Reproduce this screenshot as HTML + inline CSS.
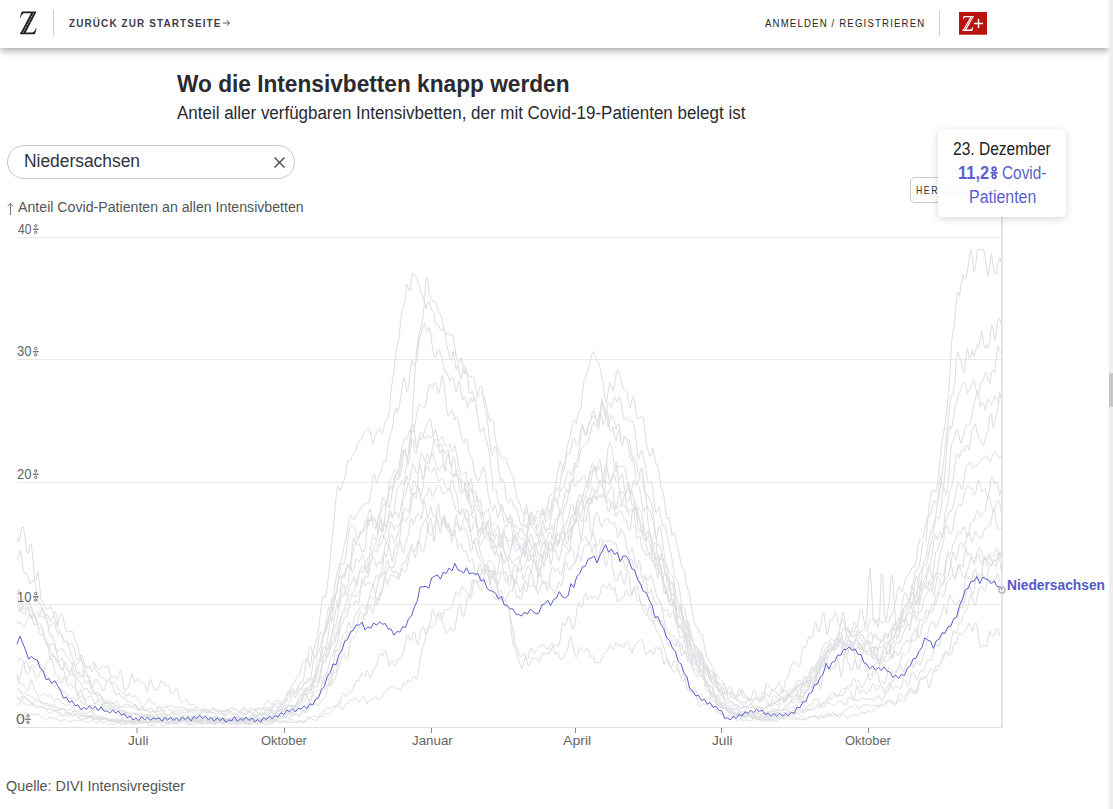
<!DOCTYPE html>
<html><head><meta charset="utf-8">
<style>
html,body{margin:0;padding:0;background:#fff;}
body{width:1113px;height:809px;position:relative;overflow:hidden;font-family:"Liberation Sans",sans-serif;color:#252525;}
.abs{position:absolute;}
.tx{position:absolute;white-space:nowrap;transform-origin:0 0;}
#hdr{position:absolute;left:0;top:0;width:1109px;height:48px;background:#fff;box-shadow:0 3px 7px rgba(0,0,0,0.33);z-index:5;}
#sb{position:absolute;left:1109px;top:0;width:4px;height:809px;background:#efefef;z-index:6;}
#sbt{position:absolute;left:1109px;top:373px;width:4px;height:34px;background:#c8c8c8;z-index:7;}
svg.full{position:absolute;left:0;top:0;}
</style></head>
<body>
<div id="hdr"></div>
<svg class="full" width="1113" height="60" style="z-index:6">
  <!-- Z logo -->
  <g fill="#1e1e1e" stroke="none">
    <path d="M21.8,11.6H36.2L35.6,13.2H23.6Q21.6,14.6 20.4,17.8L19.9,17.6Q20.8,14.2 21.8,11.6Z"/>
    <path d="M31.3,12.4H36.1L25.2,33.6H20.3Z"/>
    <path d="M20.2,32.6H32.6Q35,31.2 36,28L36.5,28.2Q35.7,31.8 34.8,34.2H20.2Z"/>
  </g>
  <path d="M33.7,12.8L22.7,33.2" stroke="#fff" stroke-width="0.7" stroke-dasharray="1.2,0.6"/>
  <line x1="53.5" y1="10" x2="53.5" y2="36" stroke="#d0d0d0" stroke-width="1"/>
  <path d="M223,23H229.6M226.8,20.2L229.6,23L226.8,25.8" stroke="#555" stroke-width="1" fill="none"/>
  <line x1="939.5" y1="10" x2="939.5" y2="36" stroke="#d0d0d0" stroke-width="1"/>
  <rect x="959" y="12" width="28" height="22.7" fill="#b9130f"/>
  <g fill="#fff">
    <path d="M963.6,16H973.8L973.4,17.2H965Q963.9,18 963.3,19.6L962.9,19.5Q963.2,17.6 963.6,16Z"/>
    <path d="M970.6,16.4H973.8L965.9,30.4H962.6Z"/>
    <path d="M962.6,29.6H970.6Q972.2,28.8 972.9,26.8L973.3,27Q972.9,29.4 972.3,30.9H962.6Z"/>
  </g>
  <path d="M972.3,16.8L964.2,30" stroke="#b9130f" stroke-width="0.5"/>
  <path d="M974,23.4H983M978.5,18.8V28" stroke="#fff" stroke-width="1.5"/>
</svg>
<div id="sb"></div><div id="sbt"></div>

<div class="abs" style="left:7px;top:145px;width:286px;height:32px;border:1px solid #c8c8c8;border-radius:17px;"></div>
<svg class="full" width="1113" height="809" style="z-index:1">
  <g stroke="#eaeaee" stroke-width="1">
    <line x1="17" y1="237.5" x2="1002" y2="237.5"/>
    <line x1="17" y1="359.5" x2="1002" y2="359.5"/>
    <line x1="17" y1="482.5" x2="1002" y2="482.5"/>
    <line x1="17" y1="604.5" x2="1002" y2="604.5"/>
  </g>
  <path d="M274.5,157.5L284.5,167.5M284.5,157.5L274.5,167.5" stroke="#444" stroke-width="1.4" fill="none"/>
  <g fill="none" stroke="#dddee1" stroke-width="1" stroke-linejoin="round">
<path d="M17.0,688.8L18.6,688.9L20.2,691.8L21.8,694.0L23.4,692.7L25.0,693.3L26.6,695.2L28.2,695.2L29.8,695.5L31.4,696.8L33.0,697.6L34.6,698.8L36.2,700.6L37.8,701.6L39.4,701.6L41.0,701.5L42.6,702.4L44.2,704.1L45.8,705.2L47.4,705.3L49.0,705.4L50.5,705.3L52.1,704.5L53.7,706.5L55.3,710.5L56.9,711.1L58.5,709.5L60.1,709.0L61.7,709.0L63.3,708.2L64.9,708.4L66.5,710.5L68.1,710.6L69.7,709.2L71.3,709.8L72.9,711.3L74.5,713.2L76.1,714.3L77.7,713.6L79.3,713.9L80.9,715.2L82.5,715.4L84.1,715.4L85.7,715.9L87.3,715.8L88.9,715.7L90.5,716.2L92.1,716.6L93.7,716.1L95.3,716.0L96.9,717.1L98.5,717.9L100.1,717.9L101.7,718.0L103.3,718.4L104.9,718.9L106.5,718.7L108.1,719.4L109.7,720.5L111.3,720.4L112.9,719.8L114.4,720.2L116.0,721.3L117.6,721.5L119.2,720.9L120.8,720.8L122.4,720.4L124.0,720.7L125.6,721.7L127.2,720.8L128.8,720.0L130.4,720.9L132.0,721.3L133.6,720.5L135.2,720.1L136.8,720.2L138.4,721.4L140.0,722.2L141.6,721.7L143.2,720.9L144.8,720.4L146.4,721.0L148.0,722.5L149.6,722.0L151.2,720.4L152.8,720.2L154.4,721.0L156.0,720.9L157.6,720.3L159.2,719.9L160.8,719.8L162.4,720.3L164.0,720.8L165.6,720.6L167.2,720.9L168.8,722.1L170.4,721.7L172.0,721.3L173.6,721.6L175.2,721.2L176.8,720.7L178.3,720.3L179.9,720.1L181.5,719.6L183.1,719.2L184.7,720.1L186.3,721.6L187.9,721.3L189.5,719.7L191.1,720.1L192.7,720.9L194.3,720.6L195.9,720.1L197.5,719.7L199.1,719.9L200.7,720.5L202.3,720.6L203.9,720.5L205.5,720.5L207.1,719.4L208.7,719.2L210.3,721.5L211.9,722.2L213.5,719.4L215.1,718.0L216.7,720.1L218.3,720.9L219.9,720.1L221.5,720.3L223.1,720.4L224.7,719.8L226.3,719.4L227.9,719.4L229.5,719.4L231.1,719.7L232.7,720.1L234.3,720.1L235.9,720.0L237.5,719.8L239.1,720.3L240.7,719.6L242.2,718.1L243.8,718.2L245.4,718.5L247.0,718.4L248.6,718.7L250.2,718.6L251.8,718.0L253.4,718.3L255.0,718.6L256.6,718.1L258.2,718.5L259.8,719.3L261.4,719.1L263.0,717.7L264.6,716.9L266.2,717.7L267.8,718.5L269.4,718.9L271.0,717.5L272.6,715.6L274.2,715.1L275.8,713.9L277.4,711.1L279.0,707.9L280.6,704.4L282.2,701.0L283.8,700.0L285.4,699.4L287.0,696.6L288.6,692.7L290.2,688.8L291.8,685.1L293.4,683.8L295.0,682.3L296.6,677.5L298.2,676.1L299.8,674.7L301.4,667.3L303.0,661.6L304.6,660.7L306.1,661.4L307.7,656.6L309.3,647.3L310.9,647.4L312.5,652.1L314.1,648.8L315.7,643.2L317.3,637.0L318.9,626.3L320.5,613.4L322.1,600.0L323.7,596.1L325.3,597.2L326.9,589.1L328.5,576.4L330.1,560.6L331.7,544.5L333.3,527.4L334.9,510.2L336.5,492.1L338.1,485.7L339.7,491.1L341.3,488.1L342.9,482.2L344.5,479.2L346.1,470.9L347.7,460.7L349.3,461.5L350.9,460.1L352.5,454.4L354.1,453.9L355.7,450.7L357.3,444.3L358.9,440.6L360.5,440.5L362.1,437.2L363.7,433.0L365.3,431.0L366.9,429.6L368.5,427.8L370.0,430.1L371.6,438.2L373.2,443.6L374.8,438.3L376.4,432.5L378.0,430.5L379.6,428.2L381.2,432.6L382.8,432.9L384.4,425.6L386.0,419.4L387.6,419.1L389.2,413.1L390.8,393.7L392.4,380.4L394.0,371.4L395.6,354.4L397.2,346.1L398.8,339.5L400.4,323.8L402.0,310.7L403.6,306.9L405.2,299.3L406.8,284.5L408.4,287.8L410.0,291.0L411.6,278.6L413.2,273.2L414.8,274.3L416.4,278.1L418.0,281.7L419.6,287.2L421.2,293.4L422.8,295.3L424.4,302.8L426.0,308.3L427.6,303.2L429.2,301.0L430.8,308.0L432.4,310.9L433.9,312.7L435.5,323.5L437.1,325.7L438.7,324.3L440.3,329.9L441.9,330.4L443.5,328.0L445.1,332.6L446.7,345.3L448.3,351.3L449.9,358.5L451.5,360.4L453.1,350.5L454.7,360.6L456.3,370.1L457.9,364.6L459.5,372.0L461.1,379.2L462.7,369.7L464.3,365.6L465.9,373.2L467.5,374.6L469.1,374.5L470.7,377.7L472.3,375.6L473.9,377.2L475.5,387.8L477.1,394.4L478.7,395.3L480.3,394.4L481.9,392.4L483.5,395.0L485.1,400.5L486.7,406.6L488.3,415.5L489.9,422.0L491.5,418.8L493.1,419.5L494.7,433.7L496.3,444.3L497.8,447.9L499.4,453.3L501.0,457.2L502.6,458.5L504.2,458.1L505.8,458.0L507.4,464.0L509.0,468.3L510.6,471.4L512.2,475.7L513.8,479.4L515.4,489.8L517.0,498.6L518.6,500.3L520.2,505.0L521.8,510.8L523.4,514.5L525.0,514.7L526.6,510.5L528.2,514.2L529.8,523.4L531.4,527.2L533.0,527.7L534.6,529.9L536.2,535.0L537.8,536.5L539.4,535.3L541.0,533.2L542.6,527.9L544.2,526.5L545.8,528.7L547.4,530.2L549.0,528.6L550.6,520.2L552.2,511.8L553.8,502.3L555.4,498.8L557.0,502.8L558.6,498.4L560.2,491.1L561.7,487.8L563.3,488.2L564.9,484.5L566.5,475.6L568.1,470.8L569.7,472.4L571.3,475.3L572.9,470.5L574.5,462.7L576.1,465.6L577.7,467.6L579.3,457.5L580.9,449.2L582.5,447.9L584.1,446.4L585.7,444.7L587.3,443.4L588.9,438.7L590.5,433.1L592.1,425.1L593.7,421.7L595.3,425.9L596.9,424.7L598.5,417.7L600.1,411.9L601.7,417.0L603.3,425.0L604.9,420.9L606.5,411.8L608.1,415.1L609.7,430.6L611.3,431.1L612.9,426.6L614.5,437.5L616.1,440.9L617.7,431.4L619.3,430.4L620.9,437.1L622.5,438.6L624.1,436.4L625.6,436.8L627.2,441.5L628.8,448.5L630.4,457.2L632.0,461.5L633.6,459.6L635.2,458.2L636.8,465.1L638.4,473.6L640.0,473.5L641.6,475.8L643.2,484.6L644.8,492.1L646.4,501.0L648.0,509.1L649.6,509.6L651.2,513.8L652.8,521.4L654.4,527.9L656.0,538.2L657.6,545.3L659.2,544.2L660.8,547.3L662.4,558.2L664.0,561.6L665.6,562.7L667.2,568.5L668.8,576.6L670.4,591.3L672.0,600.0L673.6,600.6L675.2,606.3L676.8,613.7L678.4,616.8L680.0,616.6L681.6,621.5L683.2,629.3L684.8,632.8L686.4,637.8L688.0,643.9L689.5,648.1L691.1,651.2L692.7,653.2L694.3,657.3L695.9,661.2L697.5,664.0L699.1,668.7L700.7,671.7L702.3,672.1L703.9,675.1L705.5,679.2L707.1,681.4L708.7,685.9L710.3,691.6L711.9,694.3L713.5,695.6L715.1,698.8L716.7,703.1L718.3,705.4L719.9,706.6L721.5,707.2L723.1,706.9L724.7,707.6L726.3,709.3L727.9,711.3L729.5,712.7L731.1,712.9L732.7,712.1L734.3,711.8L735.9,713.4L737.5,715.3L739.1,716.3L740.7,717.2L742.3,717.8L743.9,717.8L745.5,717.0L747.1,716.6L748.7,717.2L750.3,717.0L751.9,717.1L753.4,717.9L755.0,717.9L756.6,718.5L758.2,719.6L759.8,719.6L761.4,719.6L763.0,719.8L764.6,719.7L766.2,719.2L767.8,719.2L769.4,719.6L771.0,719.8L772.6,719.7L774.2,718.5L775.8,717.5L777.4,717.3L779.0,717.0L780.6,716.9L782.2,717.2L783.8,716.7L785.4,715.4L787.0,714.5L788.6,713.5L790.2,712.7L791.8,713.1L793.4,712.7L795.0,712.2L796.6,713.1L798.2,714.1L799.8,713.7L801.4,711.8L803.0,710.3L804.6,710.1L806.2,710.2L807.8,709.7L809.4,709.7L811.0,710.0L812.6,708.4L814.2,707.4L815.8,706.3L817.3,704.3L818.9,705.3L820.5,706.4L822.1,704.1L823.7,701.6L825.3,700.8L826.9,699.1L828.5,697.3L830.1,698.1L831.7,699.3L833.3,696.7L834.9,693.9L836.5,695.6L838.1,695.9L839.7,692.5L841.3,689.6L842.9,688.3L844.5,688.7L846.1,689.0L847.7,686.2L849.3,686.3L850.9,687.1L852.5,681.0L854.1,678.3L855.7,682.5L857.3,681.7L858.9,680.0L860.5,685.0L862.1,688.1L863.7,685.3L865.3,681.7L866.9,678.2L868.5,674.5L870.1,674.7L871.7,675.5L873.3,669.7L874.9,663.4L876.5,662.3L878.1,663.4L879.7,663.4L881.2,663.0L882.8,662.6L884.4,659.5L886.0,655.3L887.6,651.2L889.2,650.6L890.8,651.1L892.4,644.9L894.0,639.8L895.6,640.6L897.2,638.8L898.8,635.7L900.4,630.2L902.0,618.5L903.6,609.4L905.2,606.6L906.8,604.8L908.4,601.2L910.0,597.2L911.6,591.9L913.2,582.1L914.8,573.1L916.4,570.2L918.0,569.1L919.6,564.2L921.2,553.9L922.8,542.6L924.4,541.6L926.0,540.5L927.6,523.0L929.2,504.5L930.8,496.4L932.4,490.6L934.0,489.4L935.6,491.9L937.2,486.2L938.8,472.2L940.4,456.3L942.0,442.2L943.6,433.1L945.1,424.2L946.7,410.5L948.3,395.5L949.9,372.6L951.5,343.3L953.1,330.9L954.7,323.4L956.3,300.2L957.9,291.6L959.5,296.5L961.1,284.1L962.7,274.5L964.3,280.1L965.9,278.6L967.5,270.0L969.1,259.1L970.7,249.2L972.3,256.4L973.9,272.1L975.5,268.5L977.1,249.9L978.7,249.2L980.3,249.2L981.9,249.9L983.5,249.2L985.1,255.8L986.7,269.6L988.3,275.9L989.9,263.4L991.5,253.6L993.1,265.4L994.7,273.8L996.3,273.5L997.9,264.7L999.5,257.6L1001.1,262.6"/>
<path d="M17.0,696.5L18.6,698.2L20.2,701.1L21.8,701.5L23.4,697.4L25.0,696.9L26.6,699.7L28.2,700.2L29.8,701.5L31.4,702.7L33.0,702.7L34.6,704.1L36.2,705.9L37.8,706.3L39.4,706.0L41.0,706.1L42.6,707.0L44.2,708.1L45.8,709.0L47.4,709.3L49.0,708.8L50.5,709.1L52.1,709.7L53.7,710.7L55.3,711.6L56.9,710.3L58.5,710.3L60.1,713.8L61.7,715.9L63.3,714.9L64.9,713.2L66.5,712.6L68.1,712.5L69.7,713.0L71.3,714.0L72.9,714.7L74.5,714.9L76.1,715.4L77.7,716.8L79.3,717.1L80.9,715.7L82.5,715.4L84.1,717.5L85.7,719.1L87.3,718.3L88.9,717.5L90.5,717.5L92.1,718.3L93.7,719.4L95.3,718.4L96.9,718.5L98.5,720.3L100.1,719.8L101.7,718.8L103.3,719.2L104.9,718.4L106.5,717.9L108.1,719.6L109.7,721.5L111.3,721.7L112.9,721.1L114.4,721.4L116.0,721.8L117.6,721.6L119.2,721.7L120.8,723.2L122.4,724.8L124.0,724.3L125.6,722.0L127.2,720.8L128.8,720.7L130.4,721.8L132.0,722.5L133.6,722.0L135.2,722.5L136.8,723.6L138.4,722.6L140.0,720.8L141.6,720.8L143.2,721.7L144.8,722.4L146.4,722.4L148.0,721.6L149.6,722.1L151.2,722.8L152.8,722.9L154.4,722.8L156.0,721.8L157.6,721.3L159.2,721.6L160.8,721.4L162.4,721.9L164.0,722.5L165.6,722.7L167.2,722.5L168.8,722.2L170.4,722.6L172.0,723.0L173.6,723.2L175.2,723.6L176.8,723.7L178.3,722.6L179.9,721.2L181.5,720.5L183.1,719.7L184.7,719.2L186.3,720.6L187.9,721.2L189.5,720.7L191.1,721.4L192.7,721.7L194.3,721.9L195.9,722.6L197.5,722.8L199.1,721.7L200.7,721.7L202.3,721.7L203.9,720.1L205.5,720.0L207.1,721.4L208.7,722.1L210.3,721.8L211.9,721.2L213.5,720.4L215.1,720.5L216.7,721.7L218.3,722.2L219.9,722.5L221.5,722.8L223.1,722.3L224.7,721.1L226.3,719.9L227.9,719.9L229.5,720.8L231.1,721.0L232.7,720.1L234.3,719.2L235.9,719.7L237.5,720.7L239.1,721.7L240.7,721.7L242.2,720.9L243.8,720.6L245.4,721.1L247.0,721.4L248.6,720.9L250.2,720.1L251.8,719.3L253.4,719.2L255.0,720.0L256.6,720.7L258.2,720.7L259.8,720.9L261.4,720.8L263.0,720.3L264.6,720.0L266.2,719.4L267.8,718.6L269.4,718.8L271.0,720.0L272.6,721.2L274.2,720.8L275.8,720.7L277.4,720.7L279.0,719.2L280.6,718.5L282.2,718.1L283.8,716.8L285.4,716.4L287.0,717.1L288.6,717.5L290.2,716.3L291.8,715.8L293.4,715.5L295.0,714.0L296.6,714.2L298.2,715.3L299.8,714.5L301.4,713.0L303.0,710.7L304.6,710.1L306.1,711.4L307.7,710.9L309.3,709.1L310.9,707.1L312.5,704.8L314.1,704.3L315.7,704.6L317.3,704.9L318.9,705.4L320.5,702.5L322.1,699.2L323.7,698.9L325.3,697.3L326.9,691.2L328.5,685.4L330.1,685.7L331.7,684.4L333.3,680.1L334.9,678.8L336.5,674.5L338.1,668.1L339.7,664.1L341.3,660.2L342.9,654.3L344.5,654.1L346.1,659.9L347.7,658.5L349.3,648.0L350.9,639.0L352.5,637.6L354.1,637.6L355.7,634.5L357.3,629.6L358.9,626.7L360.5,627.3L362.1,625.5L363.7,617.0L365.3,614.6L366.9,614.7L368.5,606.5L370.0,605.1L371.6,612.4L373.2,612.4L374.8,602.5L376.4,597.1L378.0,601.0L379.6,599.1L381.2,590.0L382.8,587.6L384.4,580.7L386.0,565.1L387.6,560.0L389.2,565.5L390.8,567.5L392.4,567.4L394.0,567.4L395.6,559.3L397.2,551.0L398.8,546.2L400.4,532.2L402.0,510.5L403.6,492.7L405.2,476.4L406.8,461.4L408.4,454.5L410.0,448.1L411.6,431.8L413.2,402.1L414.8,373.0L416.4,353.0L418.0,339.4L419.6,333.4L421.2,326.1L422.8,318.1L424.4,303.1L426.0,279.1L427.6,277.9L429.2,294.1L430.8,298.4L432.4,299.7L433.9,302.3L435.5,302.2L437.1,307.2L438.7,311.9L440.3,314.0L441.9,318.4L443.5,327.0L445.1,333.8L446.7,333.8L448.3,333.3L449.9,335.4L451.5,335.0L453.1,334.9L454.7,345.9L456.3,356.6L457.9,361.0L459.5,362.2L461.1,357.4L462.7,364.2L464.3,374.4L465.9,368.4L467.5,374.6L469.1,392.9L470.7,392.7L472.3,391.4L473.9,399.6L475.5,401.1L477.1,396.4L478.7,391.6L480.3,385.9L481.9,386.9L483.5,399.4L485.1,408.5L486.7,415.8L488.3,428.2L489.9,444.1L491.5,455.4L493.1,453.4L494.7,446.6L496.3,448.3L497.8,459.6L499.4,473.8L501.0,481.5L502.6,478.8L504.2,483.1L505.8,495.2L507.4,502.9L509.0,503.0L510.6,498.3L512.2,501.1L513.8,507.1L515.4,507.5L517.0,509.5L518.6,516.4L520.2,522.9L521.8,526.3L523.4,523.2L525.0,509.2L526.6,504.7L528.2,515.2L529.8,515.1L531.4,512.7L533.0,516.0L534.6,516.7L536.2,514.6L537.8,510.9L539.4,512.3L541.0,511.4L542.6,508.3L544.2,514.0L545.8,518.1L547.4,509.1L549.0,498.3L550.6,494.9L552.2,494.9L553.8,493.5L555.4,484.7L557.0,475.6L558.6,468.1L560.2,460.9L561.7,465.1L563.3,472.7L564.9,466.4L566.5,451.7L568.1,443.4L569.7,437.8L571.3,429.9L572.9,420.9L574.5,419.4L576.1,423.1L577.7,416.3L579.3,410.7L580.9,408.3L582.5,393.3L584.1,380.4L585.7,377.4L587.3,372.8L588.9,366.6L590.5,360.8L592.1,353.8L593.7,351.4L595.3,355.5L596.9,361.7L598.5,362.8L600.1,367.5L601.7,376.8L603.3,382.8L604.9,397.7L606.5,403.5L608.1,391.6L609.7,382.8L611.3,385.6L612.9,391.3L614.5,385.7L616.1,374.2L617.7,369.8L619.3,372.8L620.9,379.1L622.5,386.5L624.1,390.1L625.6,389.3L627.2,392.4L628.8,403.6L630.4,408.1L632.0,399.7L633.6,396.6L635.2,405.7L636.8,415.9L638.4,419.1L640.0,417.3L641.6,416.0L643.2,418.0L644.8,429.9L646.4,443.8L648.0,450.1L649.6,455.9L651.2,455.5L652.8,447.9L654.4,454.4L656.0,464.5L657.6,464.0L659.2,473.8L660.8,486.9L662.4,490.2L664.0,496.8L665.6,510.4L667.2,518.9L668.8,517.2L670.4,524.0L672.0,535.5L673.6,533.2L675.2,534.1L676.8,543.7L678.4,550.5L680.0,558.2L681.6,566.6L683.2,568.4L684.8,572.7L686.4,584.0L688.0,589.7L689.5,595.0L691.1,604.7L692.7,613.7L694.3,622.1L695.9,626.3L697.5,627.5L699.1,632.6L700.7,634.7L702.3,634.4L703.9,643.5L705.5,652.4L707.1,657.3L708.7,660.3L710.3,662.5L711.9,667.1L713.5,668.9L715.1,674.2L716.7,681.8L718.3,685.1L719.9,686.2L721.5,687.5L723.1,694.1L724.7,701.3L726.3,704.7L727.9,705.4L729.5,705.4L731.1,706.7L732.7,708.0L734.3,708.3L735.9,707.5L737.5,708.2L739.1,711.1L740.7,712.7L742.3,713.7L743.9,715.2L745.5,715.9L747.1,715.3L748.7,714.7L750.3,715.5L751.9,716.3L753.4,715.9L755.0,716.3L756.6,716.9L758.2,717.3L759.8,717.5L761.4,716.7L763.0,716.5L764.6,717.5L766.2,717.1L767.8,715.1L769.4,713.3L771.0,712.3L772.6,713.1L774.2,713.4L775.8,712.8L777.4,711.6L779.0,710.6L780.6,710.7L782.2,709.7L783.8,708.0L785.4,706.6L787.0,704.6L788.6,702.6L790.2,701.7L791.8,701.9L793.4,702.6L795.0,702.9L796.6,701.6L798.2,698.7L799.8,696.1L801.4,696.5L803.0,695.9L804.6,692.7L806.2,691.8L807.8,690.6L809.4,686.1L811.0,684.9L812.6,687.7L814.2,683.8L815.8,676.0L817.3,673.5L818.9,672.5L820.5,666.3L822.1,659.7L823.7,657.6L825.3,653.8L826.9,650.8L828.5,650.5L830.1,648.4L831.7,647.6L833.3,648.2L834.9,644.7L836.5,639.0L838.1,638.4L839.7,640.7L841.3,636.6L842.9,628.3L844.5,627.7L846.1,632.9L847.7,637.3L849.3,637.5L850.9,632.1L852.5,631.4L854.1,632.5L855.7,626.7L857.3,626.3L858.9,632.0L860.5,633.1L862.1,630.6L863.7,628.5L865.3,630.9L866.9,630.9L868.5,624.1L870.1,620.6L871.7,618.9L873.3,619.3L874.9,623.0L876.5,622.3L878.1,619.2L879.7,619.3L881.2,622.4L882.8,623.4L884.4,621.8L886.0,621.4L887.6,622.6L889.2,621.4L890.8,615.8L892.4,612.3L894.0,608.6L895.6,601.9L897.2,593.1L898.8,585.9L900.4,588.9L902.0,592.0L903.6,586.7L905.2,580.6L906.8,576.3L908.4,574.8L910.0,572.9L911.6,568.4L913.2,567.2L914.8,566.3L916.4,558.7L918.0,546.7L919.6,539.4L921.2,540.1L922.8,538.3L924.4,530.7L926.0,522.7L927.6,516.5L929.2,516.4L930.8,514.4L932.4,504.4L934.0,500.1L935.6,502.6L937.2,502.2L938.8,498.3L940.4,487.8L942.0,474.5L943.6,461.4L945.1,448.0L946.7,434.5L948.3,419.1L949.9,404.1L951.5,395.0L953.1,393.0L954.7,383.2L956.3,360.8L957.9,351.6L959.5,356.5L961.1,361.3L962.7,370.7L964.3,372.6L965.9,357.0L967.5,348.4L969.1,358.2L970.7,356.4L972.3,350.2L973.9,356.4L975.5,350.7L977.1,344.5L978.7,347.4L980.3,337.3L981.9,330.5L983.5,343.5L985.1,348.7L986.7,344.8L988.3,347.8L989.9,341.2L991.5,325.0L993.1,328.6L994.7,341.1L996.3,333.8L997.9,319.0L999.5,318.5L1001.1,323.5"/>
<path d="M17.0,675.5L18.6,683.4L20.2,683.8L21.8,683.1L23.4,684.9L25.0,687.7L26.6,691.0L28.2,690.2L29.8,684.7L31.4,679.5L33.0,684.1L34.6,690.5L36.2,692.5L37.8,694.7L39.4,696.2L41.0,694.9L42.6,693.9L44.2,694.1L45.8,694.5L47.4,696.3L49.0,696.3L50.5,694.9L52.1,697.2L53.7,700.5L55.3,700.9L56.9,698.8L58.5,698.4L60.1,701.6L61.7,702.9L63.3,703.0L64.9,705.2L66.5,705.4L68.1,704.0L69.7,704.6L71.3,705.7L72.9,708.3L74.5,710.5L76.1,709.6L77.7,710.7L79.3,712.0L80.9,710.5L82.5,710.1L84.1,712.1L85.7,713.4L87.3,713.1L88.9,712.2L90.5,711.5L92.1,712.3L93.7,713.3L95.3,713.8L96.9,715.6L98.5,716.7L100.1,715.9L101.7,716.0L103.3,717.6L104.9,718.4L106.5,719.5L108.1,720.5L109.7,719.0L111.3,719.0L112.9,720.7L114.4,720.9L116.0,720.4L117.6,720.8L119.2,722.4L120.8,722.0L122.4,719.7L124.0,720.2L125.6,722.7L127.2,722.3L128.8,721.1L130.4,720.5L132.0,720.2L133.6,721.1L135.2,721.7L136.8,721.0L138.4,720.0L140.0,720.4L141.6,722.2L143.2,722.0L144.8,719.6L146.4,718.8L148.0,719.1L149.6,719.1L151.2,720.2L152.8,721.8L154.4,722.4L156.0,721.4L157.6,720.6L159.2,722.0L160.8,722.4L162.4,721.4L164.0,720.5L165.6,720.8L167.2,722.7L168.8,723.3L170.4,721.1L172.0,719.2L173.6,719.3L175.2,720.3L176.8,720.8L178.3,720.8L179.9,720.4L181.5,720.5L183.1,721.1L184.7,721.1L186.3,720.5L187.9,720.1L189.5,718.9L191.1,717.2L192.7,717.0L194.3,719.4L195.9,722.2L197.5,722.4L199.1,721.2L200.7,721.6L202.3,722.1L203.9,720.0L205.5,719.6L207.1,721.9L208.7,722.7L210.3,721.9L211.9,720.6L213.5,718.8L215.1,718.2L216.7,719.2L218.3,719.7L219.9,719.0L221.5,718.1L223.1,718.0L224.7,719.2L226.3,720.9L227.9,721.5L229.5,720.5L231.1,718.8L232.7,719.0L234.3,720.5L235.9,720.6L237.5,720.3L239.1,721.2L240.7,721.3L242.2,718.9L243.8,717.4L245.4,719.4L247.0,721.4L248.6,722.3L250.2,721.8L251.8,719.7L253.4,718.8L255.0,719.3L256.6,719.5L258.2,719.5L259.8,720.5L261.4,721.6L263.0,721.0L264.6,720.3L266.2,720.7L267.8,721.0L269.4,720.9L271.0,719.9L272.6,718.9L274.2,719.2L275.8,718.7L277.4,717.1L279.0,715.5L280.6,715.8L282.2,716.9L283.8,715.6L285.4,714.1L287.0,712.7L288.6,710.3L290.2,708.4L291.8,707.6L293.4,706.4L295.0,704.8L296.6,704.9L298.2,704.0L299.8,702.0L301.4,699.6L303.0,694.9L304.6,691.0L306.1,689.3L307.7,690.6L309.3,690.7L310.9,686.0L312.5,682.2L314.1,680.4L315.7,676.4L317.3,669.4L318.9,664.2L320.5,661.9L322.1,657.4L323.7,654.5L325.3,651.0L326.9,643.6L328.5,633.9L330.1,619.0L331.7,605.3L333.3,597.1L334.9,586.1L336.5,574.7L338.1,569.0L339.7,563.8L341.3,559.9L342.9,553.2L344.5,543.7L346.1,538.6L347.7,529.4L349.3,519.5L350.9,515.1L352.5,517.7L354.1,519.5L355.7,515.6L357.3,514.4L358.9,512.2L360.5,508.0L362.1,505.6L363.7,504.8L365.3,503.1L366.9,503.0L368.5,503.0L370.0,497.1L371.6,488.0L373.2,474.9L374.8,474.2L376.4,483.8L378.0,479.0L379.6,474.0L381.2,471.4L382.8,462.6L384.4,461.8L386.0,461.9L387.6,449.9L389.2,437.4L390.8,433.6L392.4,429.3L394.0,414.9L395.6,408.0L397.2,412.4L398.8,408.2L400.4,399.9L402.0,389.6L403.6,377.4L405.2,381.2L406.8,391.4L408.4,389.0L410.0,372.4L411.6,359.4L413.2,364.3L414.8,366.1L416.4,360.3L418.0,349.9L419.6,337.2L421.2,333.5L422.8,327.4L424.4,322.6L426.0,329.2L427.6,332.3L429.2,327.3L430.8,333.7L432.4,347.0L433.9,356.5L435.5,357.7L437.1,350.8L438.7,349.0L440.3,352.8L441.9,357.0L443.5,365.6L445.1,372.5L446.7,372.8L448.3,376.5L449.9,381.5L451.5,378.3L453.1,377.2L454.7,386.2L456.3,391.8L457.9,384.2L459.5,381.3L461.1,392.6L462.7,400.3L464.3,396.8L465.9,399.2L467.5,408.7L469.1,402.6L470.7,397.7L472.3,402.0L473.9,398.3L475.5,402.6L477.1,413.5L478.7,422.0L480.3,432.8L481.9,430.5L483.5,427.6L485.1,435.6L486.7,440.4L488.3,447.8L489.9,457.1L491.5,472.9L493.1,490.0L494.7,490.1L496.3,489.5L497.8,500.3L499.4,505.3L501.0,504.2L502.6,512.8L504.2,523.1L505.8,520.8L507.4,517.6L509.0,520.6L510.6,518.4L512.2,518.1L513.8,529.0L515.4,540.2L517.0,541.5L518.6,533.8L520.2,528.2L521.8,528.9L523.4,532.1L525.0,535.0L526.6,536.2L528.2,538.2L529.8,542.2L531.4,547.7L533.0,549.1L534.6,546.0L536.2,546.2L537.8,543.0L539.4,536.4L541.0,528.4L542.6,519.6L544.2,525.1L545.8,533.2L547.4,529.7L549.0,529.3L550.6,529.3L552.2,525.6L553.8,534.4L555.4,538.8L557.0,525.9L558.6,515.1L560.2,510.6L561.7,515.0L563.3,513.4L564.9,504.3L566.5,504.2L568.1,496.4L569.7,484.0L571.3,482.2L572.9,479.8L574.5,470.1L576.1,462.8L577.7,459.1L579.3,448.8L580.9,432.9L582.5,424.7L584.1,432.8L585.7,435.9L587.3,427.5L588.9,424.0L590.5,420.6L592.1,413.2L593.7,410.2L595.3,414.4L596.9,422.7L598.5,429.8L600.1,417.6L601.7,402.3L603.3,407.8L604.9,415.9L606.5,412.5L608.1,402.9L609.7,403.5L611.3,407.5L612.9,401.1L614.5,396.5L616.1,400.2L617.7,401.4L619.3,396.6L620.9,401.4L622.5,413.1L624.1,419.4L625.6,418.4L627.2,417.4L628.8,420.4L630.4,420.8L632.0,421.2L633.6,423.6L635.2,431.4L636.8,448.2L638.4,459.5L640.0,454.2L641.6,450.5L643.2,455.7L644.8,462.7L646.4,472.2L648.0,481.4L649.6,483.1L651.2,480.8L652.8,488.7L654.4,503.9L656.0,512.9L657.6,510.4L659.2,507.4L660.8,517.4L662.4,526.5L664.0,524.9L665.6,527.2L667.2,536.5L668.8,544.3L670.4,551.2L672.0,559.4L673.6,569.9L675.2,577.7L676.8,580.1L678.4,582.9L680.0,592.7L681.6,605.9L683.2,607.6L684.8,609.0L686.4,617.8L688.0,622.2L689.5,625.3L691.1,633.1L692.7,642.4L694.3,646.1L695.9,645.8L697.5,650.1L699.1,658.8L700.7,665.4L702.3,668.0L703.9,672.6L705.5,682.4L707.1,687.5L708.7,688.2L710.3,691.4L711.9,692.9L713.5,692.1L715.1,694.2L716.7,697.1L718.3,699.4L719.9,702.1L721.5,703.8L723.1,706.8L724.7,707.9L726.3,707.2L727.9,709.1L729.5,711.3L731.1,711.8L732.7,712.0L734.3,713.1L735.9,713.6L737.5,714.1L739.1,715.9L740.7,717.0L742.3,716.1L743.9,714.4L745.5,713.5L747.1,714.0L748.7,715.4L750.3,715.7L751.9,715.3L753.4,715.5L755.0,714.9L756.6,715.1L758.2,716.4L759.8,716.5L761.4,715.2L763.0,712.6L764.6,712.0L766.2,714.2L767.8,716.6L769.4,717.4L771.0,715.7L772.6,714.8L774.2,714.6L775.8,714.0L777.4,714.3L779.0,713.4L780.6,712.4L782.2,712.0L783.8,709.6L785.4,708.8L787.0,711.0L788.6,710.6L790.2,707.7L791.8,707.2L793.4,707.9L795.0,706.6L796.6,704.8L798.2,703.1L799.8,701.0L801.4,698.7L803.0,695.5L804.6,693.6L806.2,692.7L807.8,689.8L809.4,686.7L811.0,687.4L812.6,687.7L814.2,682.7L815.8,676.3L817.3,671.6L818.9,670.2L820.5,668.4L822.1,662.7L823.7,657.8L825.3,658.3L826.9,658.6L828.5,655.8L830.1,653.7L831.7,650.7L833.3,647.5L834.9,641.7L836.5,637.6L838.1,641.0L839.7,643.1L841.3,640.9L842.9,641.3L844.5,645.7L846.1,646.2L847.7,641.7L849.3,639.4L850.9,641.3L852.5,644.9L854.1,644.5L855.7,638.2L857.3,634.2L858.9,637.0L860.5,639.1L862.1,641.0L863.7,644.6L865.3,644.7L866.9,642.3L868.5,640.7L870.1,643.1L871.7,643.8L873.3,636.1L874.9,633.2L876.5,638.3L878.1,639.7L879.7,638.0L881.2,640.5L882.8,641.8L884.4,637.6L886.0,635.3L887.6,633.6L889.2,634.2L890.8,636.0L892.4,631.9L894.0,628.5L895.6,629.9L897.2,629.0L898.8,628.1L900.4,624.3L902.0,612.8L903.6,607.5L905.2,605.5L906.8,602.7L908.4,603.6L910.0,596.8L911.6,584.9L913.2,587.3L914.8,601.7L916.4,604.9L918.0,588.6L919.6,573.5L921.2,571.0L922.8,566.8L924.4,560.6L926.0,557.5L927.6,548.4L929.2,537.3L930.8,531.0L932.4,528.1L934.0,523.8L935.6,516.4L937.2,506.3L938.8,487.5L940.4,475.6L942.0,485.1L943.6,488.2L945.1,470.2L946.7,448.3L948.3,431.8L949.9,426.0L951.5,429.0L953.1,420.6L954.7,408.0L956.3,403.7L957.9,397.0L959.5,392.1L961.1,388.4L962.7,383.8L964.3,382.2L965.9,386.7L967.5,393.6L969.1,391.2L970.7,387.1L972.3,382.2L973.9,379.2L975.5,387.0L977.1,394.3L978.7,393.5L980.3,385.8L981.9,381.1L983.5,379.9L985.1,373.0L986.7,372.2L988.3,380.8L989.9,382.9L991.5,372.2L993.1,370.0L994.7,373.2L996.3,357.0L997.9,345.6L999.5,350.3L1001.1,353.1"/>
<path d="M17.0,559.0L18.6,555.9L20.2,550.6L21.8,559.0L23.4,571.0L25.0,573.0L26.6,573.3L28.2,578.4L29.8,583.8L31.4,582.9L33.0,579.9L34.6,581.7L36.2,589.0L37.8,600.2L39.4,604.9L41.0,605.8L42.6,612.0L44.2,613.8L45.8,617.0L47.4,623.9L49.0,626.2L50.5,625.5L52.1,624.0L53.7,622.2L55.3,624.8L56.9,632.4L58.5,634.8L60.1,632.8L61.7,635.3L63.3,641.6L64.9,641.6L66.5,642.0L68.1,645.6L69.7,644.0L71.3,643.8L72.9,645.0L74.5,649.4L76.1,657.9L77.7,661.1L79.3,658.2L80.9,654.8L82.5,656.6L84.1,662.8L85.7,666.6L87.3,667.7L88.9,667.7L90.5,667.1L92.1,663.5L93.7,661.6L95.3,667.8L96.9,671.8L98.5,673.0L100.1,677.3L101.7,678.9L103.3,677.1L104.9,679.1L106.5,681.9L108.1,681.0L109.7,682.6L111.3,683.8L112.9,682.6L114.4,682.8L116.0,684.4L117.6,687.5L119.2,689.7L120.8,691.7L122.4,692.7L124.0,692.3L125.6,695.7L127.2,696.1L128.8,692.7L130.4,695.7L132.0,697.7L133.6,695.5L135.2,696.2L136.8,698.1L138.4,700.3L140.0,702.8L141.6,705.5L143.2,706.7L144.8,704.9L146.4,702.2L148.0,699.1L149.6,699.0L151.2,702.1L152.8,703.3L154.4,704.3L156.0,706.2L157.6,708.2L159.2,709.0L160.8,708.5L162.4,708.0L164.0,707.4L165.6,706.5L167.2,705.3L168.8,705.8L170.4,706.1L172.0,705.5L173.6,706.3L175.2,707.7L176.8,708.4L178.3,707.9L179.9,706.9L181.5,707.0L183.1,707.6L184.7,708.4L186.3,709.3L187.9,710.2L189.5,710.4L191.1,709.3L192.7,709.3L194.3,709.8L195.9,709.9L197.5,710.6L199.1,710.6L200.7,709.9L202.3,711.1L203.9,712.2L205.5,712.6L207.1,712.5L208.7,711.1L210.3,711.2L211.9,710.8L213.5,708.3L215.1,708.4L216.7,710.6L218.3,710.9L219.9,709.7L221.5,709.8L223.1,711.4L224.7,711.5L226.3,710.6L227.9,710.7L229.5,710.7L231.1,711.6L232.7,713.4L234.3,715.0L235.9,715.4L237.5,712.7L239.1,710.8L240.7,711.2L242.2,709.9L243.8,709.3L245.4,710.4L247.0,710.8L248.6,711.0L250.2,711.5L251.8,711.0L253.4,709.8L255.0,708.6L256.6,708.6L258.2,709.2L259.8,708.9L261.4,709.3L263.0,708.9L264.6,707.8L266.2,707.8L267.8,707.6L269.4,707.4L271.0,708.0L272.6,708.0L274.2,706.3L275.8,704.8L277.4,703.6L279.0,702.3L280.6,705.3L282.2,709.1L283.8,705.4L285.4,700.5L287.0,700.9L288.6,702.5L290.2,700.6L291.8,695.8L293.4,693.0L295.0,692.7L296.6,690.7L298.2,687.5L299.8,688.3L301.4,689.8L303.0,686.1L304.6,683.3L306.1,681.4L307.7,677.2L309.3,679.7L310.9,679.5L312.5,665.7L314.1,657.0L315.7,657.5L317.3,654.4L318.9,650.2L320.5,646.7L322.1,639.5L323.7,633.8L325.3,631.7L326.9,629.0L328.5,620.6L330.1,607.1L331.7,598.8L333.3,597.5L334.9,598.1L336.5,594.2L338.1,581.9L339.7,576.6L341.3,578.2L342.9,576.2L344.5,577.0L346.1,571.1L347.7,564.2L349.3,568.0L350.9,565.8L352.5,553.4L354.1,546.4L355.7,544.1L357.3,541.1L358.9,538.2L360.5,532.4L362.1,531.4L363.7,531.6L365.3,528.0L366.9,522.5L368.5,512.6L370.0,509.1L371.6,516.6L373.2,525.2L374.8,529.2L376.4,525.4L378.0,518.2L379.6,513.9L381.2,510.7L382.8,505.4L384.4,503.6L386.0,507.1L387.6,499.9L389.2,483.0L390.8,477.4L392.4,475.7L394.0,469.9L395.6,470.0L397.2,473.4L398.8,469.5L400.4,457.0L402.0,447.3L403.6,440.9L405.2,438.3L406.8,439.7L408.4,434.8L410.0,429.2L411.6,431.4L413.2,431.9L414.8,425.1L416.4,416.4L418.0,407.0L419.6,403.6L421.2,405.9L422.8,406.7L424.4,407.6L426.0,403.8L427.6,393.4L429.2,383.7L430.8,385.2L432.4,389.0L433.9,383.7L435.5,382.7L437.1,388.1L438.7,393.5L440.3,387.2L441.9,375.7L443.5,381.1L445.1,394.7L446.7,409.3L448.3,416.1L449.9,412.8L451.5,409.7L453.1,412.9L454.7,420.2L456.3,416.9L457.9,417.7L459.5,428.4L461.1,434.7L462.7,440.9L464.3,442.7L465.9,438.6L467.5,441.6L469.1,453.3L470.7,456.4L472.3,458.8L473.9,469.5L475.5,475.3L477.1,480.1L478.7,481.2L480.3,476.3L481.9,470.6L483.5,466.8L485.1,472.0L486.7,483.0L488.3,494.6L489.9,500.9L491.5,507.8L493.1,511.2L494.7,504.6L496.3,509.3L497.8,517.6L499.4,513.5L501.0,505.4L502.6,505.7L504.2,512.7L505.8,515.4L507.4,519.6L509.0,524.0L510.6,521.8L512.2,524.5L513.8,526.9L515.4,524.9L517.0,527.7L518.6,528.9L520.2,530.3L521.8,532.1L523.4,527.1L525.0,524.3L526.6,527.6L528.2,522.2L529.8,515.6L531.4,520.4L533.0,520.2L534.6,517.3L536.2,518.4L537.8,518.1L539.4,516.7L541.0,513.2L542.6,514.5L544.2,514.1L545.8,507.1L547.4,507.5L549.0,512.0L550.6,512.0L552.2,507.1L553.8,499.5L555.4,490.6L557.0,487.3L558.6,491.4L560.2,484.1L561.7,471.1L563.3,467.5L564.9,461.5L566.5,453.5L568.1,453.2L569.7,454.2L571.3,448.2L572.9,437.6L574.5,438.4L576.1,444.2L577.7,443.7L579.3,440.2L580.9,429.7L582.5,424.8L584.1,429.3L585.7,435.2L587.3,434.4L588.9,423.2L590.5,419.4L592.1,418.4L593.7,415.0L595.3,418.6L596.9,421.3L598.5,422.5L600.1,413.6L601.7,398.7L603.3,403.3L604.9,408.5L606.5,414.3L608.1,427.2L609.7,420.9L611.3,415.1L612.9,418.4L614.5,422.4L616.1,429.5L617.7,424.1L619.3,424.6L620.9,441.8L622.5,445.4L624.1,437.2L625.6,437.0L627.2,440.4L628.8,439.7L630.4,445.9L632.0,456.0L633.6,460.8L635.2,470.8L636.8,484.4L638.4,483.0L640.0,471.9L641.6,467.5L643.2,473.7L644.8,489.2L646.4,495.7L648.0,495.2L649.6,499.2L651.2,503.1L652.8,510.4L654.4,525.3L656.0,538.2L657.6,534.3L659.2,525.5L660.8,528.3L662.4,538.9L664.0,552.3L665.6,562.8L667.2,568.1L668.8,570.3L670.4,573.6L672.0,575.0L673.6,579.3L675.2,589.7L676.8,598.5L678.4,604.2L680.0,606.7L681.6,612.4L683.2,618.8L684.8,619.3L686.4,621.4L688.0,630.8L689.5,641.9L691.1,647.1L692.7,649.4L694.3,654.3L695.9,658.0L697.5,658.0L699.1,660.4L700.7,664.6L702.3,663.0L703.9,664.9L705.5,671.8L707.1,668.7L708.7,668.2L710.3,676.3L711.9,682.3L713.5,685.9L715.1,686.7L716.7,687.2L718.3,689.8L719.9,693.7L721.5,696.0L723.1,696.8L724.7,698.2L726.3,699.2L727.9,700.3L729.5,701.8L731.1,701.3L732.7,702.7L734.3,705.6L735.9,705.2L737.5,705.5L739.1,707.6L740.7,708.4L742.3,708.2L743.9,707.4L745.5,707.4L747.1,707.7L748.7,707.4L750.3,707.7L751.9,707.1L753.4,707.4L755.0,708.9L756.6,706.9L758.2,705.8L759.8,707.8L761.4,708.5L763.0,708.4L764.6,708.4L766.2,708.4L767.8,707.7L769.4,705.5L771.0,704.2L772.6,703.4L774.2,701.1L775.8,699.8L777.4,700.8L779.0,700.2L780.6,696.0L782.2,696.6L783.8,701.7L785.4,701.4L787.0,696.3L788.6,690.7L790.2,688.7L791.8,689.9L793.4,688.5L795.0,687.8L796.6,688.7L798.2,686.2L799.8,684.1L801.4,683.0L803.0,683.1L804.6,685.1L806.2,682.9L807.8,677.0L809.4,673.4L811.0,670.0L812.6,666.2L814.2,667.8L815.8,669.3L817.3,664.9L818.9,660.2L820.5,654.9L822.1,648.8L823.7,645.4L825.3,643.0L826.9,642.7L828.5,642.1L830.1,639.4L831.7,639.2L833.3,640.5L834.9,640.7L836.5,638.4L838.1,635.6L839.7,630.2L841.3,621.7L842.9,619.2L844.5,625.4L846.1,630.4L847.7,630.3L849.3,632.6L850.9,636.0L852.5,635.9L854.1,636.3L855.7,634.3L857.3,631.1L858.9,634.7L860.5,636.0L862.1,634.1L863.7,638.1L865.3,642.0L866.9,639.3L868.5,633.8L870.1,631.9L871.7,633.9L873.3,637.9L874.9,637.6L876.5,636.1L878.1,639.3L879.7,641.2L881.2,641.2L882.8,639.0L884.4,633.0L886.0,634.3L887.6,638.3L889.2,632.9L890.8,629.7L892.4,626.8L894.0,623.7L895.6,625.6L897.2,622.7L898.8,618.0L900.4,618.1L902.0,617.4L903.6,612.3L905.2,611.2L906.8,609.3L908.4,600.0L910.0,601.3L911.6,608.6L913.2,598.8L914.8,581.2L916.4,575.7L918.0,582.9L919.6,588.1L921.2,579.5L922.8,567.7L924.4,564.7L926.0,565.5L927.6,560.0L929.2,550.2L930.8,544.3L932.4,537.8L934.0,526.9L935.6,518.4L937.2,516.6L938.8,518.7L940.4,514.9L942.0,498.2L943.6,486.5L945.1,491.0L946.7,494.3L948.3,482.0L949.9,460.4L951.5,444.2L953.1,440.1L954.7,437.5L956.3,429.9L957.9,429.7L959.5,439.0L961.1,443.2L962.7,438.9L964.3,432.0L965.9,425.8L967.5,424.6L969.1,424.8L970.7,422.4L972.3,413.6L973.9,404.3L975.5,400.2L977.1,390.2L978.7,394.0L980.3,407.2L981.9,402.2L983.5,403.2L985.1,410.2L986.7,404.3L988.3,399.3L989.9,401.6L991.5,404.5L993.1,400.8L994.7,396.1L996.3,399.2L997.9,401.8L999.5,402.4L1001.1,402.8"/>
<path d="M17.0,537.1L18.6,542.1L20.2,536.1L21.8,527.4L23.4,526.9L25.0,537.8L26.6,551.0L28.2,553.5L29.8,545.1L31.4,543.9L33.0,561.4L34.6,580.9L36.2,580.2L37.8,571.6L39.4,583.4L41.0,599.5L42.6,602.4L44.2,605.6L45.8,608.2L47.4,609.1L49.0,608.7L50.5,605.9L52.1,609.9L53.7,614.5L55.3,611.3L56.9,616.0L58.5,628.4L60.1,632.8L61.7,634.0L63.3,638.1L64.9,642.0L66.5,641.3L68.1,642.1L69.7,649.1L71.3,655.2L72.9,658.3L74.5,663.7L76.1,665.2L77.7,663.5L79.3,662.7L80.9,657.7L82.5,663.5L84.1,675.2L85.7,676.1L87.3,676.3L88.9,675.7L90.5,679.6L92.1,687.1L93.7,684.8L95.3,678.7L96.9,679.4L98.5,683.4L100.1,684.9L101.7,688.3L103.3,691.1L104.9,687.8L106.5,682.4L108.1,678.9L109.7,678.3L111.3,682.7L112.9,686.6L114.4,690.1L116.0,695.3L117.6,694.6L119.2,693.0L120.8,696.2L122.4,698.3L124.0,697.9L125.6,698.7L127.2,701.0L128.8,701.9L130.4,701.5L132.0,703.3L133.6,704.4L135.2,704.6L136.8,708.1L138.4,711.0L140.0,709.0L141.6,706.1L143.2,707.7L144.8,710.9L146.4,710.6L148.0,709.5L149.6,711.4L151.2,711.8L152.8,710.6L154.4,711.7L156.0,711.9L157.6,711.3L159.2,711.8L160.8,710.6L162.4,709.7L164.0,712.6L165.6,716.2L167.2,716.6L168.8,714.5L170.4,712.9L172.0,712.5L173.6,713.3L175.2,714.2L176.8,714.4L178.3,713.7L179.9,712.8L181.5,712.7L183.1,710.8L184.7,708.4L186.3,711.1L187.9,713.1L189.5,710.3L191.1,710.9L192.7,712.7L194.3,711.4L195.9,711.9L197.5,713.7L199.1,714.6L200.7,714.3L202.3,711.9L203.9,710.4L205.5,711.3L207.1,709.9L208.7,709.4L210.3,712.2L211.9,712.8L213.5,713.1L215.1,714.8L216.7,714.5L218.3,712.3L219.9,711.4L221.5,712.2L223.1,711.3L224.7,710.0L226.3,709.6L227.9,709.3L229.5,709.4L231.1,708.5L232.7,707.1L234.3,708.4L235.9,709.8L237.5,710.6L239.1,712.4L240.7,711.7L242.2,709.3L243.8,707.7L245.4,707.5L247.0,710.6L248.6,711.5L250.2,707.5L251.8,707.8L253.4,710.1L255.0,708.8L256.6,710.6L258.2,713.7L259.8,712.9L261.4,709.9L263.0,708.2L264.6,710.0L266.2,711.0L267.8,710.4L269.4,710.7L271.0,710.2L272.6,707.0L274.2,703.7L275.8,704.4L277.4,707.7L279.0,707.7L280.6,704.8L282.2,704.1L283.8,705.4L285.4,701.9L287.0,692.7L288.6,691.5L290.2,694.7L291.8,689.0L293.4,689.0L295.0,697.4L296.6,695.8L298.2,687.6L299.8,682.7L301.4,682.1L303.0,681.8L304.6,673.7L306.1,659.7L307.7,656.8L309.3,667.6L310.9,663.6L312.5,651.3L314.1,656.3L315.7,658.5L317.3,648.7L318.9,638.8L320.5,632.0L322.1,633.5L323.7,634.7L325.3,627.1L326.9,615.5L328.5,607.6L330.1,613.4L331.7,621.8L333.3,611.5L334.9,596.3L336.5,601.3L338.1,608.3L339.7,597.3L341.3,580.3L342.9,573.9L344.5,575.5L346.1,568.0L347.7,563.6L349.3,568.9L350.9,561.2L352.5,543.6L354.1,537.7L355.7,543.4L357.3,545.0L358.9,543.5L360.5,547.3L362.1,552.0L363.7,551.9L365.3,546.2L366.9,530.8L368.5,518.6L370.0,522.0L371.6,519.4L373.2,516.6L374.8,520.0L376.4,525.3L378.0,534.1L379.6,523.8L381.2,518.5L382.8,532.5L384.4,523.3L386.0,502.3L387.6,503.1L389.2,508.0L390.8,502.1L392.4,491.2L394.0,478.5L395.6,474.4L397.2,479.3L398.8,479.3L400.4,466.6L402.0,452.8L403.6,450.1L405.2,451.3L406.8,457.8L408.4,464.9L410.0,455.2L411.6,439.7L413.2,439.9L414.8,452.0L416.4,453.2L418.0,441.5L419.6,437.2L421.2,439.3L422.8,436.8L424.4,431.8L426.0,427.0L427.6,422.4L429.2,419.4L430.8,420.0L432.4,429.8L433.9,443.0L435.5,445.1L437.1,444.7L438.7,447.7L440.3,443.2L441.9,444.8L443.5,465.3L445.1,471.2L446.7,456.9L448.3,453.4L449.9,463.5L451.5,467.1L453.1,456.4L454.7,458.0L456.3,472.9L457.9,479.0L459.5,479.7L461.1,483.1L462.7,491.1L464.3,491.1L465.9,482.9L467.5,485.7L469.1,492.2L470.7,503.6L472.3,513.8L473.9,506.3L475.5,503.9L477.1,508.0L478.7,511.6L480.3,513.7L481.9,512.1L483.5,520.2L485.1,529.8L486.7,528.6L488.3,520.5L489.9,519.3L491.5,532.5L493.1,536.3L494.7,529.8L496.3,528.9L497.8,525.5L499.4,529.4L501.0,539.0L502.6,537.2L504.2,527.5L505.8,524.6L507.4,527.2L509.0,518.7L510.6,514.8L512.2,531.4L513.8,546.7L515.4,550.9L517.0,550.5L518.6,546.6L520.2,546.9L521.8,544.9L523.4,545.1L525.0,556.8L526.6,546.6L528.2,520.8L529.8,517.6L531.4,525.3L533.0,522.8L534.6,517.8L536.2,523.7L537.8,536.4L539.4,543.4L541.0,542.0L542.6,542.3L544.2,544.4L545.8,541.7L547.4,537.6L549.0,532.6L550.6,532.6L552.2,539.9L553.8,531.6L555.4,518.7L557.0,520.0L558.6,518.0L560.2,513.1L561.7,513.3L563.3,523.3L564.9,535.0L566.5,532.4L568.1,530.4L569.7,532.2L571.3,527.7L572.9,527.4L574.5,522.4L576.1,506.3L577.7,499.4L579.3,502.8L580.9,502.3L582.5,496.2L584.1,490.5L585.7,486.1L587.3,482.3L588.9,478.0L590.5,469.5L592.1,463.0L593.7,465.5L595.3,472.3L596.9,469.6L598.5,461.2L600.1,459.9L601.7,470.6L603.3,491.1L604.9,490.1L606.5,464.9L608.1,447.7L609.7,442.1L611.3,446.4L612.9,455.6L614.5,467.0L616.1,471.9L617.7,466.4L619.3,466.5L620.9,466.8L622.5,466.6L624.1,467.1L625.6,469.9L627.2,481.0L628.8,490.5L630.4,494.8L632.0,487.3L633.6,480.0L635.2,484.9L636.8,485.2L638.4,485.4L640.0,490.5L641.6,500.6L643.2,512.4L644.8,507.8L646.4,506.3L648.0,521.4L649.6,532.6L651.2,536.5L652.8,542.0L654.4,544.2L656.0,542.6L657.6,556.7L659.2,565.3L660.8,553.9L662.4,554.3L664.0,564.6L665.6,573.5L667.2,583.3L668.8,586.5L670.4,583.6L672.0,583.6L673.6,589.4L675.2,600.3L676.8,610.0L678.4,610.4L680.0,604.5L681.6,607.9L683.2,621.8L684.8,626.5L686.4,621.8L688.0,623.4L689.5,634.2L691.1,646.2L692.7,649.9L694.3,649.0L695.9,653.7L697.5,657.0L699.1,651.7L700.7,651.7L702.3,661.1L703.9,669.3L705.5,666.8L707.1,667.2L708.7,676.7L710.3,676.2L711.9,675.6L713.5,680.4L715.1,681.7L716.7,682.4L718.3,682.0L719.9,684.5L721.5,685.6L723.1,683.6L724.7,685.4L726.3,691.3L727.9,698.7L729.5,699.1L731.1,694.1L732.7,693.6L734.3,695.7L735.9,697.9L737.5,700.7L739.1,702.0L740.7,702.3L742.3,701.6L743.9,702.4L745.5,703.3L747.1,699.5L748.7,698.0L750.3,702.8L751.9,703.5L753.4,700.7L755.0,699.8L756.6,698.1L758.2,699.5L759.8,701.5L761.4,699.2L763.0,696.6L764.6,697.7L766.2,699.5L767.8,702.5L769.4,706.5L771.0,703.6L772.6,696.8L774.2,695.3L775.8,696.4L777.4,697.6L779.0,699.0L780.6,699.4L782.2,699.3L783.8,698.4L785.4,698.5L787.0,696.9L788.6,694.5L790.2,693.7L791.8,691.3L793.4,689.7L795.0,687.9L796.6,688.9L798.2,697.1L799.8,698.1L801.4,688.5L803.0,679.8L804.6,676.2L806.2,677.8L807.8,682.5L809.4,685.0L811.0,680.5L812.6,679.7L814.2,686.4L815.8,686.8L817.3,680.2L818.9,683.1L820.5,689.6L822.1,680.6L823.7,671.6L825.3,670.8L826.9,667.7L828.5,668.1L830.1,670.3L831.7,667.2L833.3,667.6L834.9,668.9L836.5,660.2L838.1,657.2L839.7,669.3L841.3,677.5L842.9,667.7L844.5,653.6L846.1,654.8L847.7,661.3L849.3,664.8L850.9,670.2L852.5,670.2L854.1,660.7L855.7,660.0L857.3,669.2L858.9,669.1L860.5,662.7L862.1,657.0L863.7,650.9L865.3,644.4L866.9,641.2L868.5,641.1L870.1,646.9L871.7,657.9L873.3,656.3L874.9,647.2L876.5,647.5L878.1,656.3L879.7,667.2L881.2,664.2L882.8,649.8L884.4,645.5L886.0,649.2L887.6,654.0L889.2,654.3L890.8,642.6L892.4,629.3L894.0,626.5L895.6,632.4L897.2,638.8L898.8,635.7L900.4,620.8L902.0,615.3L903.6,622.2L905.2,621.5L906.8,619.1L908.4,626.7L910.0,631.0L911.6,617.8L913.2,608.3L914.8,613.0L916.4,620.2L918.0,616.1L919.6,593.8L921.2,581.9L922.8,584.2L924.4,584.2L926.0,580.7L927.6,573.5L929.2,567.3L930.8,561.1L932.4,553.1L934.0,540.4L935.6,534.9L937.2,539.7L938.8,535.6L940.4,531.7L942.0,537.6L943.6,531.5L945.1,513.2L946.7,506.9L948.3,500.5L949.9,490.1L951.5,487.6L953.1,480.0L954.7,467.5L956.3,455.1L957.9,453.5L959.5,457.7L961.1,452.0L962.7,449.4L964.3,450.9L965.9,446.2L967.5,445.6L969.1,450.3L970.7,440.1L972.3,430.1L973.9,427.0L975.5,423.6L977.1,432.2L978.7,437.8L980.3,439.1L981.9,444.5L983.5,445.8L985.1,439.4L986.7,434.6L988.3,430.5L989.9,414.5L991.5,413.9L993.1,427.2L994.7,421.6L996.3,415.7L997.9,407.3L999.5,391.8L1001.1,398.1"/>
<path d="M17.0,596.3L18.6,600.3L20.2,612.1L21.8,609.1L23.4,599.0L25.0,597.3L26.6,598.6L28.2,599.9L29.8,603.7L31.4,606.9L33.0,611.7L34.6,618.3L36.2,618.6L37.8,616.3L39.4,615.2L41.0,611.0L42.6,607.9L44.2,611.5L45.8,617.3L47.4,622.5L49.0,631.3L50.5,636.4L52.1,635.3L53.7,639.4L55.3,649.4L56.9,652.4L58.5,649.9L60.1,649.4L61.7,648.1L63.3,649.8L64.9,654.0L66.5,655.5L68.1,657.4L69.7,660.0L71.3,662.5L72.9,667.6L74.5,672.3L76.1,673.3L77.7,672.8L79.3,676.0L80.9,677.2L82.5,675.2L84.1,679.7L85.7,683.6L87.3,681.5L88.9,681.4L90.5,685.2L92.1,687.8L93.7,691.5L95.3,694.5L96.9,692.1L98.5,691.8L100.1,695.4L101.7,699.0L103.3,702.8L104.9,704.2L106.5,702.3L108.1,701.6L109.7,703.1L111.3,703.3L112.9,703.4L114.4,704.9L116.0,705.2L117.6,706.5L119.2,708.9L120.8,710.4L122.4,711.6L124.0,711.2L125.6,711.1L127.2,712.8L128.8,713.7L130.4,713.3L132.0,713.1L133.6,713.5L135.2,713.8L136.8,713.8L138.4,714.6L140.0,715.0L141.6,713.9L143.2,713.9L144.8,715.7L146.4,715.3L148.0,714.2L149.6,715.9L151.2,716.9L152.8,716.0L154.4,715.4L156.0,715.6L157.6,716.5L159.2,716.2L160.8,715.0L162.4,715.7L164.0,716.6L165.6,716.5L167.2,718.1L168.8,719.9L170.4,719.1L172.0,718.0L173.6,717.7L175.2,717.2L176.8,717.0L178.3,717.6L179.9,717.3L181.5,717.7L183.1,720.7L184.7,721.8L186.3,720.7L187.9,721.7L189.5,722.6L191.1,721.5L192.7,721.5L194.3,721.6L195.9,718.8L197.5,716.7L199.1,717.5L200.7,719.1L202.3,720.1L203.9,720.4L205.5,720.2L207.1,719.9L208.7,719.6L210.3,719.2L211.9,718.3L213.5,717.6L215.1,718.7L216.7,721.6L218.3,722.2L219.9,720.5L221.5,719.8L223.1,719.4L224.7,719.0L226.3,718.7L227.9,718.2L229.5,718.1L231.1,719.0L232.7,719.1L234.3,717.8L235.9,717.4L237.5,717.5L239.1,717.2L240.7,717.1L242.2,717.6L243.8,718.0L245.4,718.3L247.0,719.0L248.6,718.8L250.2,718.1L251.8,718.1L253.4,716.9L255.0,715.4L256.6,716.5L258.2,715.8L259.8,713.9L261.4,714.7L263.0,714.6L264.6,714.1L266.2,715.4L267.8,717.0L269.4,716.6L271.0,714.4L272.6,714.1L274.2,715.1L275.8,714.0L277.4,712.3L279.0,711.0L280.6,711.1L282.2,712.0L283.8,711.4L285.4,709.4L287.0,706.1L288.6,704.3L290.2,706.1L291.8,707.1L293.4,706.1L295.0,705.2L296.6,703.8L298.2,702.6L299.8,702.6L301.4,702.0L303.0,698.6L304.6,695.1L306.1,692.4L307.7,688.4L309.3,686.8L310.9,685.0L312.5,681.6L314.1,679.4L315.7,670.2L317.3,661.7L318.9,661.3L320.5,656.0L322.1,644.1L323.7,635.0L325.3,630.9L326.9,625.2L328.5,617.3L330.1,614.9L331.7,613.3L333.3,604.2L334.9,596.6L336.5,590.5L338.1,580.0L339.7,570.0L341.3,564.1L342.9,564.0L344.5,563.4L346.1,554.7L347.7,539.8L349.3,530.0L350.9,526.7L352.5,525.5L354.1,526.4L355.7,532.5L357.3,538.7L358.9,535.2L360.5,531.7L362.1,533.3L363.7,529.0L365.3,519.3L366.9,521.1L368.5,525.7L370.0,519.3L371.6,517.9L373.2,520.9L374.8,518.9L376.4,521.7L378.0,527.1L379.6,519.5L381.2,504.7L382.8,497.8L384.4,499.9L386.0,503.8L387.6,499.9L389.2,489.9L390.8,485.8L392.4,490.2L394.0,486.4L395.6,474.4L397.2,472.4L398.8,476.1L400.4,476.4L402.0,467.1L403.6,451.9L405.2,449.1L406.8,457.8L408.4,454.4L410.0,435.6L411.6,424.8L413.2,425.2L414.8,434.2L416.4,448.4L418.0,445.9L419.6,434.4L421.2,432.3L422.8,434.3L424.4,438.4L426.0,438.5L427.6,435.1L429.2,437.0L430.8,437.8L432.4,436.3L433.9,434.0L435.5,429.1L437.1,434.9L438.7,449.1L440.3,453.4L441.9,449.8L443.5,450.1L445.1,453.8L446.7,451.2L448.3,449.6L449.9,458.4L451.5,469.0L453.1,475.0L454.7,476.9L456.3,472.6L457.9,475.6L459.5,489.4L461.1,493.7L462.7,492.3L464.3,490.4L465.9,488.5L467.5,494.8L469.1,504.7L470.7,507.8L472.3,505.0L473.9,507.6L475.5,513.8L477.1,525.3L478.7,540.7L480.3,546.1L481.9,541.8L483.5,537.4L485.1,538.1L486.7,538.4L488.3,538.7L489.9,539.0L491.5,538.6L493.1,546.2L494.7,555.6L496.3,550.6L497.8,544.4L499.4,547.0L501.0,542.0L502.6,540.9L504.2,549.6L505.8,555.5L507.4,557.0L509.0,555.0L510.6,559.1L512.2,563.6L513.8,561.0L515.4,559.7L517.0,558.8L518.6,556.3L520.2,557.4L521.8,556.8L523.4,546.7L525.0,541.4L526.6,551.1L528.2,561.1L529.8,560.5L531.4,555.7L533.0,555.3L534.6,560.8L536.2,567.8L537.8,568.5L539.4,561.5L541.0,554.4L542.6,560.5L544.2,566.9L545.8,556.4L547.4,545.8L549.0,553.2L550.6,565.4L552.2,559.2L553.8,548.7L555.4,549.1L557.0,556.0L558.6,560.8L560.2,555.8L561.7,547.7L563.3,540.6L564.9,537.8L566.5,536.8L568.1,535.8L569.7,539.1L571.3,537.8L572.9,529.4L574.5,524.4L576.1,521.0L577.7,515.1L579.3,516.7L580.9,521.3L582.5,519.7L584.1,519.9L585.7,521.7L587.3,514.2L588.9,499.0L590.5,498.3L592.1,503.6L593.7,494.0L595.3,489.3L596.9,493.3L598.5,486.5L600.1,479.6L601.7,485.5L603.3,488.7L604.9,491.2L606.5,502.9L608.1,511.7L609.7,510.9L611.3,503.1L612.9,500.8L614.5,510.9L616.1,516.0L617.7,512.4L619.3,510.7L620.9,511.0L622.5,514.4L624.1,518.4L625.6,519.6L627.2,523.2L628.8,530.4L630.4,528.8L632.0,513.5L633.6,506.2L635.2,521.7L636.8,538.7L638.4,536.7L640.0,536.1L641.6,546.9L643.2,550.5L644.8,551.1L646.4,555.8L648.0,554.8L649.6,551.9L651.2,556.8L652.8,557.5L654.4,556.8L656.0,569.8L657.6,577.7L659.2,568.5L660.8,564.0L662.4,572.7L664.0,583.8L665.6,593.8L667.2,594.5L668.8,588.0L670.4,589.4L672.0,599.7L673.6,611.6L675.2,620.3L676.8,625.1L678.4,625.7L680.0,625.4L681.6,630.6L683.2,633.5L684.8,632.0L686.4,634.8L688.0,640.2L689.5,644.5L691.1,652.8L692.7,661.1L694.3,662.1L695.9,663.6L697.5,666.4L699.1,669.1L700.7,671.1L702.3,672.0L703.9,676.2L705.5,680.0L707.1,682.5L708.7,685.1L710.3,685.7L711.9,686.6L713.5,690.4L715.1,695.7L716.7,699.0L718.3,699.6L719.9,701.6L721.5,705.1L723.1,706.6L724.7,707.3L726.3,708.3L727.9,708.5L729.5,708.0L731.1,708.4L732.7,710.3L734.3,713.1L735.9,714.6L737.5,713.5L739.1,711.6L740.7,712.1L742.3,714.2L743.9,713.2L745.5,712.6L747.1,714.8L748.7,714.8L750.3,713.0L751.9,713.8L753.4,714.6L755.0,713.1L756.6,712.4L758.2,714.1L759.8,715.8L761.4,714.9L763.0,713.0L764.6,712.7L766.2,713.1L767.8,712.8L769.4,711.9L771.0,711.7L772.6,711.2L774.2,711.3L775.8,711.1L777.4,709.8L779.0,710.5L780.6,710.3L782.2,709.0L783.8,710.0L785.4,709.6L787.0,706.9L788.6,705.0L790.2,703.4L791.8,699.4L793.4,696.8L795.0,696.2L796.6,694.2L798.2,694.8L799.8,699.3L801.4,703.0L803.0,700.1L804.6,692.7L806.2,689.4L807.8,689.0L809.4,684.5L811.0,680.6L812.6,683.1L814.2,685.3L815.8,681.0L817.3,673.6L818.9,666.6L820.5,663.8L822.1,664.2L823.7,661.4L825.3,657.4L826.9,652.1L828.5,644.7L830.1,642.7L831.7,646.9L833.3,648.8L834.9,647.2L836.5,645.0L838.1,642.5L839.7,641.1L841.3,642.4L842.9,645.1L844.5,644.3L846.1,635.4L847.7,627.8L849.3,630.6L850.9,634.8L852.5,637.2L854.1,636.1L855.7,633.8L857.3,640.3L858.9,648.3L860.5,648.5L862.1,646.4L863.7,648.6L865.3,651.0L866.9,652.1L868.5,651.6L870.1,650.8L871.7,648.0L873.3,646.5L874.9,655.7L876.5,657.5L878.1,649.1L879.7,646.6L881.2,647.5L882.8,646.4L884.4,645.0L886.0,643.7L887.6,641.5L889.2,641.2L890.8,641.6L892.4,638.7L894.0,635.0L895.6,633.5L897.2,628.4L898.8,622.9L900.4,621.3L902.0,621.0L903.6,621.7L905.2,618.8L906.8,614.0L908.4,611.2L910.0,605.8L911.6,601.9L913.2,604.8L914.8,604.8L916.4,602.1L918.0,601.6L919.6,593.6L921.2,584.8L922.8,582.8L924.4,579.8L926.0,573.5L927.6,567.7L929.2,565.5L930.8,572.5L932.4,579.0L934.0,567.0L935.6,552.2L937.2,550.3L938.8,546.6L940.4,539.3L942.0,537.6L943.6,531.5L945.1,522.6L946.7,519.1L948.3,513.8L949.9,511.1L951.5,511.3L953.1,505.7L954.7,499.5L956.3,491.7L957.9,482.3L959.5,482.3L961.1,488.4L962.7,488.7L964.3,477.4L965.9,466.8L967.5,465.8L969.1,462.7L970.7,462.0L972.3,467.8L973.9,467.2L975.5,464.8L977.1,465.8L978.7,463.6L980.3,461.1L981.9,457.9L983.5,458.3L985.1,456.8L986.7,455.2L988.3,460.9L989.9,461.8L991.5,458.4L993.1,453.9L994.7,451.4L996.3,453.6L997.9,457.2L999.5,458.1L1001.1,455.5"/>
<path d="M17.0,603.9L18.6,604.5L20.2,608.4L21.8,612.2L23.4,613.8L25.0,614.1L26.6,609.4L28.2,607.0L29.8,613.6L31.4,617.0L33.0,614.5L34.6,614.9L36.2,619.9L37.8,624.5L39.4,623.2L41.0,624.3L42.6,631.0L44.2,636.2L45.8,640.8L47.4,644.3L49.0,644.5L50.5,643.9L52.1,644.6L53.7,643.7L55.3,644.8L56.9,653.5L58.5,661.8L60.1,660.6L61.7,657.5L63.3,661.3L64.9,667.2L66.5,669.5L68.1,671.4L69.7,670.7L71.3,669.5L72.9,673.6L74.5,674.8L76.1,675.1L77.7,679.8L79.3,682.3L80.9,683.0L82.5,686.6L84.1,690.2L85.7,688.4L87.3,688.8L88.9,692.9L90.5,692.9L92.1,694.0L93.7,694.7L95.3,692.4L96.9,695.4L98.5,700.2L100.1,700.2L101.7,699.8L103.3,701.0L104.9,701.8L106.5,702.6L108.1,702.4L109.7,703.3L111.3,706.0L112.9,707.6L114.4,708.2L116.0,709.5L117.6,711.1L119.2,711.6L120.8,710.8L122.4,709.8L124.0,710.9L125.6,713.9L127.2,714.4L128.8,714.5L130.4,716.2L132.0,716.2L133.6,714.6L135.2,713.5L136.8,714.2L138.4,716.0L140.0,716.7L141.6,715.8L143.2,715.0L144.8,716.3L146.4,717.1L148.0,716.7L149.6,717.1L151.2,718.1L152.8,718.7L154.4,718.4L156.0,717.5L157.6,716.5L159.2,716.7L160.8,717.4L162.4,717.7L164.0,717.8L165.6,717.6L167.2,717.8L168.8,718.8L170.4,719.8L172.0,720.2L173.6,721.8L175.2,722.4L176.8,721.2L178.3,720.5L179.9,718.7L181.5,717.7L183.1,719.8L184.7,720.8L186.3,719.8L187.9,719.5L189.5,720.1L191.1,720.1L192.7,719.4L194.3,720.0L195.9,721.2L197.5,721.1L199.1,721.1L200.7,721.5L202.3,721.3L203.9,720.9L205.5,720.0L207.1,720.0L208.7,720.9L210.3,721.4L211.9,722.3L213.5,723.6L215.1,722.9L216.7,722.2L218.3,722.4L219.9,722.0L221.5,721.8L223.1,721.4L224.7,720.9L226.3,720.4L227.9,721.0L229.5,721.6L231.1,719.4L232.7,718.5L234.3,720.0L235.9,720.9L237.5,721.2L239.1,720.8L240.7,719.8L242.2,720.1L243.8,720.7L245.4,721.0L247.0,721.4L248.6,720.5L250.2,718.8L251.8,718.2L253.4,718.0L255.0,718.6L256.6,719.5L258.2,719.4L259.8,718.9L261.4,718.4L263.0,718.3L264.6,718.7L266.2,719.3L267.8,717.7L269.4,715.7L271.0,716.8L272.6,717.4L274.2,715.2L275.8,714.6L277.4,716.1L279.0,716.2L280.6,716.3L282.2,716.1L283.8,714.0L285.4,713.0L287.0,713.4L288.6,713.2L290.2,712.5L291.8,712.1L293.4,712.0L295.0,711.9L296.6,710.0L298.2,706.5L299.8,705.1L301.4,703.7L303.0,702.0L304.6,701.1L306.1,698.4L307.7,694.8L309.3,693.1L310.9,691.2L312.5,686.6L314.1,681.2L315.7,678.5L317.3,678.6L318.9,680.3L320.5,677.1L322.1,666.7L323.7,660.3L325.3,658.6L326.9,653.2L328.5,646.4L330.1,640.8L331.7,637.7L333.3,632.9L334.9,626.8L336.5,622.9L338.1,613.9L339.7,603.7L341.3,594.6L342.9,584.8L344.5,585.4L346.1,595.4L347.7,595.0L349.3,586.3L350.9,584.1L352.5,579.4L354.1,576.6L355.7,584.9L357.3,585.3L358.9,573.9L360.5,567.9L362.1,566.9L363.7,566.1L365.3,568.8L366.9,568.3L368.5,562.8L370.0,562.5L371.6,559.9L373.2,549.8L374.8,543.6L376.4,543.5L378.0,545.8L379.6,546.0L381.2,544.1L382.8,539.3L384.4,533.6L386.0,530.5L387.6,524.9L389.2,515.2L390.8,513.0L392.4,518.1L394.0,515.2L395.6,511.7L397.2,515.2L398.8,517.5L400.4,510.2L402.0,500.2L403.6,497.5L405.2,496.2L406.8,489.9L408.4,482.2L410.0,487.1L411.6,495.0L413.2,493.0L414.8,497.0L416.4,498.2L418.0,479.2L419.6,463.4L421.2,469.0L422.8,479.4L424.4,475.9L426.0,466.4L427.6,466.9L429.2,471.3L430.8,472.7L432.4,471.1L433.9,468.0L435.5,469.3L437.1,476.6L438.7,481.4L440.3,480.6L441.9,479.1L443.5,480.3L445.1,486.6L446.7,487.9L448.3,489.4L449.9,489.8L451.5,479.5L453.1,480.3L454.7,490.9L456.3,493.3L457.9,503.0L459.5,515.4L461.1,511.6L462.7,507.9L464.3,513.6L465.9,519.7L467.5,520.5L469.1,516.3L470.7,512.9L472.3,516.4L473.9,518.2L475.5,518.3L477.1,526.5L478.7,536.4L480.3,536.4L481.9,526.0L483.5,522.3L485.1,526.3L486.7,530.6L488.3,535.1L489.9,538.4L491.5,541.5L493.1,542.7L494.7,538.5L496.3,533.6L497.8,536.7L499.4,543.6L501.0,547.8L502.6,543.8L504.2,535.6L505.8,536.5L507.4,542.3L509.0,547.3L510.6,549.4L512.2,543.7L513.8,539.5L515.4,543.0L517.0,545.2L518.6,543.8L520.2,546.3L521.8,550.5L523.4,549.4L525.0,544.7L526.6,541.7L528.2,542.2L529.8,537.3L531.4,533.8L533.0,541.3L534.6,545.4L536.2,542.7L537.8,544.2L539.4,546.1L541.0,537.6L542.6,532.0L544.2,539.4L545.8,546.9L547.4,547.7L549.0,547.0L550.6,551.1L552.2,548.4L553.8,541.8L555.4,541.8L557.0,536.3L558.6,532.4L560.2,536.8L561.7,534.5L563.3,530.8L564.9,537.0L566.5,543.7L568.1,542.0L569.7,529.7L571.3,516.2L572.9,515.9L574.5,522.8L576.1,522.3L577.7,514.0L579.3,506.1L580.9,501.8L582.5,497.2L584.1,494.3L585.7,494.1L587.3,491.1L588.9,487.2L590.5,483.9L592.1,474.8L593.7,466.4L595.3,468.9L596.9,478.5L598.5,482.2L600.1,480.4L601.7,485.2L603.3,481.5L604.9,466.8L606.5,463.7L608.1,474.2L609.7,482.7L611.3,481.5L612.9,477.0L614.5,467.3L616.1,462.0L617.7,474.1L619.3,489.0L620.9,493.3L622.5,491.0L624.1,493.9L625.6,498.9L627.2,500.9L628.8,500.9L630.4,495.0L632.0,491.9L633.6,499.0L635.2,507.6L636.8,511.4L638.4,516.4L640.0,523.0L641.6,529.8L643.2,539.0L644.8,540.7L646.4,536.5L648.0,539.3L649.6,542.4L651.2,548.9L652.8,562.5L654.4,566.7L656.0,563.9L657.6,566.9L659.2,571.1L660.8,572.6L662.4,580.5L664.0,592.1L665.6,594.2L667.2,590.9L668.8,597.9L670.4,606.0L672.0,603.1L673.6,602.2L675.2,608.5L676.8,618.0L678.4,626.9L680.0,626.7L681.6,623.3L683.2,627.3L684.8,633.8L686.4,641.0L688.0,649.1L689.5,655.3L691.1,654.5L692.7,654.3L694.3,658.7L695.9,658.9L697.5,662.9L699.1,671.2L700.7,674.7L702.3,676.1L703.9,678.5L705.5,682.8L707.1,686.5L708.7,689.1L710.3,693.2L711.9,695.6L713.5,694.2L715.1,695.9L716.7,700.5L718.3,702.4L719.9,704.2L721.5,705.4L723.1,705.3L724.7,705.8L726.3,706.5L727.9,708.1L729.5,708.9L731.1,709.6L732.7,710.1L734.3,709.5L735.9,709.5L737.5,709.7L739.1,710.9L740.7,712.1L742.3,711.7L743.9,710.7L745.5,710.8L747.1,712.1L748.7,713.3L750.3,713.5L751.9,712.9L753.4,714.0L755.0,714.9L756.6,712.7L758.2,711.9L759.8,714.0L761.4,714.8L763.0,714.2L764.6,713.3L766.2,712.1L767.8,712.1L769.4,711.4L771.0,710.0L772.6,709.4L774.2,708.9L775.8,709.3L777.4,710.2L779.0,707.8L780.6,703.4L782.2,702.3L783.8,702.3L785.4,701.0L787.0,699.8L788.6,696.9L790.2,694.9L791.8,698.3L793.4,700.8L795.0,699.6L796.6,696.2L798.2,690.4L799.8,688.6L801.4,692.4L803.0,693.2L804.6,687.0L806.2,684.7L807.8,687.8L809.4,684.6L811.0,678.8L812.6,675.6L814.2,675.5L815.8,676.1L817.3,675.6L818.9,669.3L820.5,658.7L822.1,656.2L823.7,659.9L825.3,663.4L826.9,663.0L828.5,656.7L830.1,650.8L831.7,648.5L833.3,648.9L834.9,649.4L836.5,646.1L838.1,640.5L839.7,633.6L841.3,632.2L842.9,639.7L844.5,644.5L846.1,644.1L847.7,645.1L849.3,645.3L850.9,644.8L852.5,644.2L854.1,641.1L855.7,640.0L857.3,640.8L858.9,642.8L860.5,646.1L862.1,646.6L863.7,645.0L865.3,643.3L866.9,641.4L868.5,643.4L870.1,646.3L871.7,646.1L873.3,647.4L874.9,646.7L876.5,647.4L878.1,649.5L879.7,644.5L881.2,640.7L882.8,642.0L884.4,643.0L886.0,643.8L887.6,643.8L889.2,641.8L890.8,639.1L892.4,638.4L894.0,637.9L895.6,633.4L897.2,629.7L898.8,629.8L900.4,627.6L902.0,626.6L903.6,627.1L905.2,621.3L906.8,615.5L908.4,613.3L910.0,612.6L911.6,613.4L913.2,609.7L914.8,603.1L916.4,600.2L918.0,602.8L919.6,603.9L921.2,595.0L922.8,585.4L924.4,583.3L926.0,587.8L927.6,588.6L929.2,580.4L930.8,581.5L932.4,584.7L934.0,577.6L935.6,575.6L937.2,573.9L938.8,561.9L940.4,551.0L942.0,548.5L943.6,541.4L945.1,528.4L946.7,525.2L948.3,530.1L949.9,533.5L951.5,533.5L953.1,526.4L954.7,515.4L956.3,509.8L957.9,505.9L959.5,503.7L961.1,506.3L962.7,502.4L964.3,493.8L965.9,488.4L967.5,485.4L969.1,487.2L970.7,488.8L972.3,488.8L973.9,494.6L975.5,494.4L977.1,484.3L978.7,480.0L980.3,485.2L981.9,491.8L983.5,490.6L985.1,488.9L986.7,495.0L988.3,498.2L989.9,487.8L991.5,476.8L993.1,479.0L994.7,484.4L996.3,481.6L997.9,485.6L999.5,495.9L1001.1,490.6"/>
<path d="M17.0,620.6L18.6,623.9L20.2,622.5L21.8,623.9L23.4,627.0L25.0,625.4L26.6,622.1L28.2,617.8L29.8,614.7L31.4,615.9L33.0,621.0L34.6,625.5L36.2,624.2L37.8,626.0L39.4,632.6L41.0,635.2L42.6,634.4L44.2,636.4L45.8,643.2L47.4,646.5L49.0,645.5L50.5,650.7L52.1,656.6L53.7,656.2L55.3,657.1L56.9,660.8L58.5,662.5L60.1,667.0L61.7,669.8L63.3,667.9L64.9,674.8L66.5,681.9L68.1,676.3L69.7,672.9L71.3,675.6L72.9,674.3L74.5,677.1L76.1,688.5L77.7,696.3L79.3,693.4L80.9,689.8L82.5,694.2L84.1,699.4L85.7,699.5L87.3,697.7L88.9,696.7L90.5,696.0L92.1,697.8L93.7,701.3L95.3,703.3L96.9,703.9L98.5,704.5L100.1,706.2L101.7,705.3L103.3,702.6L104.9,703.6L106.5,703.6L108.1,702.5L109.7,705.0L111.3,707.9L112.9,709.4L114.4,709.7L116.0,709.4L117.6,709.4L119.2,709.6L120.8,711.3L122.4,713.1L124.0,713.1L125.6,712.6L127.2,712.3L128.8,712.7L130.4,714.1L132.0,713.7L133.6,713.0L135.2,714.4L136.8,714.5L138.4,713.8L140.0,715.2L141.6,718.0L143.2,718.0L144.8,715.2L146.4,714.6L148.0,715.8L149.6,716.0L151.2,715.3L152.8,715.7L154.4,717.5L156.0,718.1L157.6,717.8L159.2,717.9L160.8,718.9L162.4,719.7L164.0,718.9L165.6,718.4L167.2,718.9L168.8,717.9L170.4,717.2L172.0,718.1L173.6,719.0L175.2,718.3L176.8,718.0L178.3,719.2L179.9,719.3L181.5,718.5L183.1,718.1L184.7,718.6L186.3,718.2L187.9,716.4L189.5,717.6L191.1,719.9L192.7,719.8L194.3,718.2L195.9,718.2L197.5,718.9L199.1,718.9L200.7,719.8L202.3,719.4L203.9,716.9L205.5,716.1L207.1,717.7L208.7,718.0L210.3,717.7L211.9,718.7L213.5,718.5L215.1,717.4L216.7,717.0L218.3,717.7L219.9,718.2L221.5,718.5L223.1,718.9L224.7,718.5L226.3,719.2L227.9,719.9L229.5,719.3L231.1,718.2L232.7,717.7L234.3,717.8L235.9,717.1L237.5,716.9L239.1,718.3L240.7,718.7L242.2,717.3L243.8,718.1L245.4,720.3L247.0,719.6L248.6,718.4L250.2,718.9L251.8,719.3L253.4,718.7L255.0,716.8L256.6,715.6L258.2,714.8L259.8,714.1L261.4,715.0L263.0,714.4L264.6,713.3L266.2,714.2L267.8,714.6L269.4,714.5L271.0,712.4L272.6,710.1L274.2,711.2L275.8,711.2L277.4,709.5L279.0,710.3L280.6,710.9L282.2,710.5L283.8,710.2L285.4,707.4L287.0,705.2L288.6,705.6L290.2,706.5L291.8,706.0L293.4,706.8L295.0,708.8L296.6,705.7L298.2,703.1L299.8,703.0L301.4,699.4L303.0,696.0L304.6,694.1L306.1,690.9L307.7,687.3L309.3,686.4L310.9,687.0L312.5,684.2L314.1,680.1L315.7,677.9L317.3,674.1L318.9,666.0L320.5,658.1L322.1,652.2L323.7,646.9L325.3,646.8L326.9,650.4L328.5,649.6L330.1,642.5L331.7,634.3L333.3,626.5L334.9,615.0L336.5,606.8L338.1,603.6L339.7,597.8L341.3,596.0L342.9,597.3L344.5,592.8L346.1,588.9L347.7,585.7L349.3,573.5L350.9,567.2L352.5,573.2L354.1,569.3L355.7,559.6L357.3,559.3L358.9,562.1L360.5,559.8L362.1,554.5L363.7,556.0L365.3,565.4L366.9,573.6L368.5,567.6L370.0,551.7L371.6,541.2L373.2,534.7L374.8,536.8L376.4,541.5L378.0,533.1L379.6,527.1L381.2,531.7L382.8,526.4L384.4,519.8L386.0,527.4L387.6,524.5L389.2,510.7L390.8,510.0L392.4,517.3L394.0,514.5L395.6,500.0L397.2,488.8L398.8,487.2L400.4,484.9L402.0,480.5L403.6,484.3L405.2,482.9L406.8,476.0L408.4,480.2L410.0,480.0L411.6,469.1L413.2,463.6L414.8,468.0L416.4,473.5L418.0,472.6L419.6,462.4L421.2,453.4L422.8,455.6L424.4,460.4L426.0,461.5L427.6,463.7L429.2,463.7L430.8,456.5L432.4,452.8L433.9,457.9L435.5,463.2L437.1,467.5L438.7,470.2L440.3,469.5L441.9,465.0L443.5,464.5L445.1,468.6L446.7,469.4L448.3,471.2L449.9,472.2L451.5,474.1L453.1,476.9L454.7,474.0L456.3,469.8L457.9,470.0L459.5,473.9L461.1,481.5L462.7,481.9L464.3,482.5L465.9,495.7L467.5,500.9L469.1,491.5L470.7,487.5L472.3,493.7L473.9,492.7L475.5,491.6L477.1,501.1L478.7,502.5L480.3,500.0L481.9,510.0L483.5,515.2L485.1,511.8L486.7,510.9L488.3,508.7L489.9,515.7L491.5,526.1L493.1,523.8L494.7,523.3L496.3,524.4L497.8,525.9L499.4,536.2L501.0,540.1L502.6,532.6L504.2,530.9L505.8,538.0L507.4,540.0L509.0,540.4L510.6,541.8L512.2,540.0L513.8,539.0L515.4,535.3L517.0,532.4L518.6,536.1L520.2,538.7L521.8,538.3L523.4,539.0L525.0,540.7L526.6,536.4L528.2,530.5L529.8,520.7L531.4,511.4L533.0,517.7L534.6,525.9L536.2,528.7L537.8,527.2L539.4,523.3L541.0,517.0L542.6,511.3L544.2,517.2L545.8,522.1L547.4,519.5L549.0,518.3L550.6,510.8L552.2,499.7L553.8,496.8L555.4,497.9L557.0,500.5L558.6,507.6L560.2,513.1L561.7,510.1L563.3,502.7L564.9,493.9L566.5,488.7L568.1,492.7L569.7,492.5L571.3,481.0L572.9,478.8L574.5,486.1L576.1,485.1L577.7,480.9L579.3,481.2L580.9,480.1L582.5,476.6L584.1,475.2L585.7,478.9L587.3,487.2L588.9,481.4L590.5,470.2L592.1,472.8L593.7,470.5L595.3,465.8L596.9,469.7L598.5,470.7L600.1,465.9L601.7,467.5L603.3,477.4L604.9,483.2L606.5,481.7L608.1,483.6L609.7,485.1L611.3,478.5L612.9,473.5L614.5,475.2L616.1,481.3L617.7,483.2L619.3,479.3L620.9,475.0L622.5,474.2L624.1,485.7L625.6,495.4L627.2,487.2L628.8,482.3L630.4,493.5L632.0,505.2L633.6,504.6L635.2,500.7L636.8,508.4L638.4,515.9L640.0,520.9L641.6,528.7L643.2,533.1L644.8,535.7L646.4,534.3L648.0,530.7L649.6,533.9L651.2,540.0L652.8,543.8L654.4,553.3L656.0,560.4L657.6,558.0L659.2,559.3L660.8,569.8L662.4,578.9L664.0,575.9L665.6,573.2L667.2,575.5L668.8,579.3L670.4,582.4L672.0,581.8L673.6,587.2L675.2,601.7L676.8,617.9L678.4,618.7L680.0,609.4L681.6,609.7L683.2,616.2L684.8,623.4L686.4,627.0L688.0,629.7L689.5,632.9L691.1,635.4L692.7,641.5L694.3,645.4L695.9,646.9L697.5,647.2L699.1,650.5L700.7,657.8L702.3,660.2L703.9,660.5L705.5,663.2L707.1,668.7L708.7,672.9L710.3,671.6L711.9,670.7L713.5,674.8L715.1,679.7L716.7,684.9L718.3,690.4L719.9,691.4L721.5,691.1L723.1,692.8L724.7,693.9L726.3,693.2L727.9,691.0L729.5,691.4L731.1,696.7L732.7,698.9L734.3,697.3L735.9,699.2L737.5,700.6L739.1,699.8L740.7,701.8L742.3,704.4L743.9,706.0L745.5,706.5L747.1,706.7L748.7,705.7L750.3,703.7L751.9,705.2L753.4,708.1L755.0,708.8L756.6,707.6L758.2,706.7L759.8,708.1L761.4,709.7L763.0,710.2L764.6,709.3L766.2,706.3L767.8,705.1L769.4,705.6L771.0,705.8L772.6,706.0L774.2,704.4L775.8,702.3L777.4,701.6L779.0,700.7L780.6,699.8L782.2,699.0L783.8,697.0L785.4,695.6L787.0,695.4L788.6,695.2L790.2,695.9L791.8,696.1L793.4,693.3L795.0,689.9L796.6,687.8L798.2,687.0L799.8,687.9L801.4,688.0L803.0,685.9L804.6,682.6L806.2,681.2L807.8,680.4L809.4,680.5L811.0,679.0L812.6,676.9L814.2,678.8L815.8,673.6L817.3,665.2L818.9,663.5L820.5,662.6L822.1,664.8L823.7,666.3L825.3,659.0L826.9,651.8L828.5,651.3L830.1,650.0L831.7,647.6L833.3,647.2L834.9,644.2L836.5,644.4L838.1,645.6L839.7,639.8L841.3,637.5L842.9,641.5L844.5,643.5L846.1,646.1L847.7,646.8L849.3,645.2L850.9,646.1L852.5,646.5L854.1,649.3L855.7,650.9L857.3,647.5L858.9,643.9L860.5,643.3L862.1,648.0L863.7,651.7L865.3,653.1L866.9,652.7L868.5,648.3L870.1,647.1L871.7,653.5L873.3,659.1L874.9,658.2L876.5,658.3L878.1,663.0L879.7,663.6L881.2,656.3L882.8,652.0L884.4,653.6L886.0,651.3L887.6,644.8L889.2,643.3L890.8,653.0L892.4,658.9L894.0,650.5L895.6,642.7L897.2,641.5L898.8,643.4L900.4,642.0L902.0,635.9L903.6,632.5L905.2,629.0L906.8,624.7L908.4,625.4L910.0,625.3L911.6,619.5L913.2,616.3L914.8,613.3L916.4,611.2L918.0,612.7L919.6,612.4L921.2,611.5L922.8,605.1L924.4,597.2L926.0,595.1L927.6,592.4L929.2,588.5L930.8,590.9L932.4,589.9L934.0,579.9L935.6,573.6L937.2,572.7L938.8,573.9L940.4,574.3L942.0,575.3L943.6,575.0L945.1,567.9L946.7,556.6L948.3,551.4L949.9,555.1L951.5,551.5L953.1,544.4L954.7,541.6L956.3,537.9L957.9,531.9L959.5,531.6L961.1,534.0L962.7,528.1L964.3,526.7L965.9,532.9L967.5,536.8L969.1,531.9L970.7,523.1L972.3,522.0L973.9,521.3L975.5,515.1L977.1,510.9L978.7,513.2L980.3,516.6L981.9,514.4L983.5,513.0L985.1,511.2L986.7,502.0L988.3,494.7L989.9,497.9L991.5,506.5L993.1,512.5L994.7,509.4L996.3,503.6L997.9,500.2L999.5,502.3L1001.1,512.1"/>
<path d="M17.0,698.0L18.6,699.2L20.2,700.1L21.8,697.0L23.4,695.7L25.0,698.2L26.6,698.8L28.2,699.4L29.8,701.9L31.4,705.1L33.0,704.8L34.6,701.2L36.2,698.8L37.8,697.5L39.4,699.3L41.0,703.1L42.6,703.9L44.2,703.3L45.8,703.5L47.4,703.7L49.0,705.2L50.5,707.6L52.1,707.2L53.7,704.9L55.3,706.2L56.9,708.0L58.5,708.1L60.1,708.8L61.7,709.4L63.3,710.1L64.9,710.5L66.5,712.3L68.1,713.9L69.7,713.7L71.3,713.1L72.9,711.8L74.5,711.2L76.1,711.6L77.7,712.5L79.3,713.4L80.9,713.0L82.5,712.6L84.1,714.2L85.7,716.2L87.3,716.7L88.9,716.6L90.5,715.5L92.1,714.8L93.7,717.2L95.3,718.8L96.9,717.5L98.5,716.8L100.1,718.0L101.7,719.6L103.3,719.8L104.9,718.7L106.5,718.2L108.1,719.5L109.7,720.2L111.3,719.9L112.9,719.3L114.4,719.9L116.0,720.0L117.6,718.0L119.2,718.9L120.8,721.4L122.4,722.0L124.0,721.4L125.6,720.5L127.2,720.1L128.8,720.2L130.4,721.3L132.0,723.0L133.6,723.4L135.2,722.5L136.8,721.1L138.4,721.3L140.0,722.6L141.6,721.7L143.2,719.8L144.8,720.3L146.4,721.6L148.0,721.0L149.6,720.8L151.2,720.4L152.8,719.9L154.4,721.6L156.0,722.0L157.6,720.8L159.2,720.9L160.8,720.7L162.4,719.1L164.0,718.4L165.6,719.0L167.2,719.8L168.8,721.7L170.4,721.6L172.0,720.2L173.6,720.1L175.2,719.6L176.8,720.3L178.3,721.5L179.9,721.2L181.5,720.9L183.1,720.7L184.7,719.5L186.3,719.9L187.9,721.6L189.5,722.2L191.1,721.8L192.7,720.5L194.3,719.1L195.9,720.5L197.5,722.2L199.1,722.4L200.7,722.8L202.3,722.6L203.9,723.2L205.5,722.5L207.1,721.0L208.7,722.1L210.3,722.5L211.9,722.2L213.5,724.1L215.1,723.9L216.7,721.7L218.3,722.0L219.9,721.7L221.5,721.0L223.1,721.5L224.7,721.7L226.3,721.6L227.9,721.0L229.5,720.0L231.1,720.1L232.7,720.6L234.3,721.1L235.9,722.6L237.5,723.8L239.1,723.2L240.7,720.8L242.2,719.7L243.8,722.2L245.4,724.6L247.0,723.6L248.6,721.7L250.2,721.4L251.8,721.2L253.4,720.4L255.0,721.2L256.6,722.9L258.2,722.8L259.8,722.6L261.4,721.5L263.0,719.4L264.6,718.6L266.2,720.1L267.8,721.8L269.4,721.5L271.0,721.0L272.6,721.3L274.2,720.3L275.8,718.3L277.4,717.8L279.0,718.1L280.6,716.8L282.2,715.2L283.8,716.5L285.4,717.8L287.0,715.9L288.6,714.3L290.2,714.1L291.8,714.1L293.4,713.2L295.0,710.4L296.6,709.5L298.2,709.9L299.8,708.7L301.4,708.1L303.0,710.0L304.6,712.9L306.1,709.6L307.7,702.5L309.3,701.4L310.9,700.2L312.5,696.5L314.1,693.8L315.7,691.4L317.3,690.7L318.9,690.9L320.5,690.2L322.1,682.9L323.7,675.9L325.3,674.2L326.9,671.7L328.5,666.7L330.1,659.5L331.7,656.5L333.3,654.4L334.9,648.6L336.5,644.7L338.1,639.5L339.7,631.8L341.3,626.1L342.9,621.7L344.5,618.0L346.1,617.7L347.7,613.9L349.3,603.6L350.9,598.2L352.5,595.5L354.1,595.4L355.7,596.4L357.3,593.7L358.9,592.3L360.5,588.8L362.1,584.3L363.7,579.7L365.3,575.4L366.9,577.3L368.5,576.4L370.0,566.2L371.6,558.9L373.2,557.2L374.8,561.2L376.4,567.4L378.0,563.1L379.6,561.6L381.2,563.8L382.8,555.7L384.4,552.5L386.0,556.7L387.6,552.4L389.2,542.0L390.8,534.2L392.4,534.7L394.0,541.8L395.6,542.6L397.2,535.6L398.8,530.3L400.4,528.0L402.0,521.7L403.6,512.0L405.2,507.2L406.8,509.9L408.4,512.7L410.0,505.2L411.6,491.6L413.2,481.5L414.8,481.2L416.4,487.2L418.0,488.1L419.6,492.3L421.2,496.0L422.8,488.7L424.4,474.3L426.0,456.8L427.6,454.1L429.2,460.4L430.8,457.4L432.4,447.9L433.9,440.6L435.5,439.4L437.1,440.3L438.7,441.4L440.3,438.4L441.9,436.0L443.5,441.4L445.1,445.0L446.7,445.6L448.3,445.8L449.9,444.2L451.5,451.0L453.1,451.7L454.7,445.4L456.3,452.1L457.9,462.0L459.5,469.5L461.1,472.8L462.7,474.6L464.3,473.9L465.9,471.5L467.5,481.6L469.1,486.7L470.7,478.1L472.3,486.0L473.9,503.8L475.5,501.7L477.1,496.8L478.7,505.7L480.3,512.5L481.9,521.3L483.5,533.5L485.1,531.5L486.7,521.2L488.3,521.8L489.9,532.7L491.5,539.3L493.1,540.7L494.7,543.6L496.3,549.4L497.8,556.0L499.4,555.6L501.0,552.0L502.6,557.3L504.2,563.5L505.8,560.0L507.4,558.7L509.0,566.5L510.6,572.8L512.2,573.8L513.8,580.9L515.4,584.1L517.0,574.4L518.6,569.0L520.2,569.4L521.8,569.7L523.4,568.1L525.0,564.2L526.6,561.2L528.2,555.8L529.8,553.7L531.4,559.9L533.0,560.8L534.6,561.1L536.2,569.4L537.8,570.4L539.4,568.6L541.0,567.7L542.6,555.3L544.2,550.3L545.8,559.4L547.4,557.2L549.0,542.9L550.6,540.9L552.2,547.0L553.8,542.5L555.4,542.3L557.0,546.9L558.6,541.7L560.2,534.6L561.7,529.3L563.3,526.4L564.9,525.5L566.5,523.2L568.1,518.5L569.7,510.9L571.3,503.8L572.9,505.2L574.5,513.1L576.1,515.2L577.7,505.9L579.3,494.0L580.9,495.1L582.5,504.7L584.1,508.8L585.7,504.9L587.3,500.9L588.9,500.8L590.5,493.6L592.1,487.1L593.7,489.5L595.3,495.0L596.9,500.6L598.5,497.2L600.1,496.2L601.7,497.3L603.3,492.0L604.9,496.1L606.5,503.7L608.1,500.4L609.7,499.5L611.3,505.8L612.9,507.8L614.5,507.4L616.1,507.1L617.7,507.9L619.3,506.4L620.9,503.8L622.5,505.7L624.1,506.1L625.6,506.4L627.2,510.0L628.8,514.4L630.4,516.2L632.0,513.9L633.6,509.5L635.2,506.9L636.8,515.6L638.4,529.8L640.0,532.1L641.6,528.0L643.2,526.5L644.8,534.6L646.4,546.4L648.0,551.8L649.6,557.5L651.2,560.5L652.8,562.3L654.4,559.8L656.0,557.1L657.6,566.3L659.2,574.0L660.8,572.7L662.4,577.7L664.0,585.1L665.6,585.9L667.2,594.2L668.8,602.5L670.4,600.6L672.0,594.8L673.6,592.5L675.2,603.8L676.8,617.9L678.4,625.5L680.0,628.7L681.6,627.4L683.2,630.1L684.8,636.0L686.4,642.6L688.0,652.9L689.5,658.8L691.1,661.4L692.7,666.9L694.3,669.0L695.9,668.2L697.5,672.3L699.1,673.3L700.7,668.9L702.3,668.3L703.9,677.9L705.5,689.4L707.1,690.8L708.7,690.7L710.3,694.0L711.9,696.4L713.5,696.6L715.1,697.0L716.7,701.0L718.3,705.9L719.9,707.1L721.5,707.5L723.1,708.7L724.7,708.8L726.3,710.1L727.9,711.7L729.5,712.3L731.1,712.8L732.7,713.9L734.3,716.6L735.9,716.6L737.5,713.6L739.1,715.5L740.7,717.6L742.3,716.2L743.9,715.4L745.5,713.4L747.1,712.4L748.7,714.4L750.3,716.7L751.9,717.4L753.4,716.6L755.0,716.3L756.6,716.2L758.2,717.8L759.8,719.7L761.4,719.0L763.0,717.8L764.6,717.5L766.2,717.5L767.8,716.7L769.4,715.3L771.0,715.5L772.6,716.6L774.2,716.8L775.8,714.3L777.4,712.0L779.0,712.9L780.6,714.6L782.2,714.6L783.8,712.6L785.4,712.4L787.0,713.6L788.6,712.3L790.2,711.1L791.8,711.1L793.4,710.3L795.0,709.0L796.6,708.6L798.2,709.5L799.8,708.7L801.4,709.0L803.0,711.1L804.6,710.7L806.2,708.0L807.8,705.6L809.4,705.4L811.0,705.1L812.6,701.8L814.2,699.1L815.8,699.3L817.3,699.1L818.9,701.7L820.5,705.1L822.1,704.9L823.7,703.5L825.3,702.8L826.9,703.1L828.5,699.4L830.1,693.7L831.7,693.6L833.3,693.0L834.9,693.0L836.5,696.4L838.1,696.1L839.7,695.0L841.3,695.7L842.9,695.5L844.5,692.7L846.1,688.6L847.7,688.3L849.3,689.9L850.9,692.1L852.5,698.7L854.1,700.5L855.7,691.0L857.3,685.1L858.9,689.3L860.5,693.2L862.1,691.2L863.7,690.3L865.3,693.3L866.9,692.4L868.5,691.3L870.1,690.7L871.7,686.0L873.3,683.9L874.9,686.8L876.5,691.2L878.1,689.3L879.7,685.1L881.2,684.7L882.8,687.6L884.4,691.9L886.0,693.0L887.6,692.6L889.2,688.0L890.8,681.6L892.4,681.5L894.0,681.3L895.6,674.3L897.2,668.7L898.8,666.3L900.4,660.7L902.0,654.3L903.6,653.2L905.2,654.4L906.8,653.3L908.4,652.0L910.0,646.6L911.6,640.0L913.2,640.1L914.8,641.4L916.4,637.5L918.0,627.9L919.6,619.6L921.2,620.1L922.8,621.9L924.4,617.1L926.0,610.5L927.6,610.1L929.2,613.0L930.8,611.6L932.4,610.9L934.0,607.0L935.6,597.6L937.2,594.2L938.8,591.1L940.4,584.7L942.0,585.3L943.6,584.3L945.1,577.8L946.7,577.6L948.3,576.1L949.9,568.5L951.5,559.0L953.1,552.0L954.7,556.0L956.3,560.5L957.9,552.8L959.5,543.9L961.1,542.3L962.7,544.9L964.3,547.2L965.9,541.7L967.5,532.9L969.1,532.8L970.7,539.1L972.3,542.2L973.9,537.2L975.5,531.4L977.1,533.6L978.7,536.9L980.3,538.8L981.9,538.6L983.5,531.7L985.1,528.0L986.7,528.5L988.3,526.3L989.9,526.1L991.5,520.4L993.1,509.2L994.7,511.0L996.3,523.0L997.9,530.2L999.5,529.6L1001.1,527.5"/>
<path d="M17.0,610.1L18.6,611.1L20.2,608.9L21.8,606.3L23.4,605.9L25.0,604.5L26.6,601.5L28.2,601.2L29.8,604.8L31.4,610.1L33.0,613.6L34.6,614.0L36.2,612.3L37.8,612.5L39.4,616.3L41.0,616.4L42.6,615.9L44.2,618.7L45.8,615.9L47.4,613.8L49.0,618.7L50.5,621.8L52.1,618.8L53.7,615.1L55.3,619.4L56.9,625.4L58.5,621.6L60.1,614.8L61.7,614.1L63.3,618.3L64.9,626.6L66.5,632.3L68.1,631.1L69.7,631.1L71.3,631.4L72.9,631.7L74.5,637.2L76.1,642.3L77.7,646.2L79.3,652.8L80.9,659.5L82.5,662.6L84.1,663.7L85.7,669.4L87.3,675.9L88.9,679.2L90.5,685.9L92.1,691.3L93.7,691.1L95.3,693.1L96.9,695.5L98.5,694.9L100.1,695.7L101.7,696.5L103.3,698.1L104.9,702.0L106.5,702.6L108.1,700.3L109.7,699.8L111.3,701.5L112.9,703.3L114.4,703.3L116.0,701.7L117.6,701.9L119.2,705.5L120.8,707.1L122.4,705.5L124.0,705.2L125.6,705.4L127.2,704.1L128.8,704.3L130.4,706.3L132.0,706.8L133.6,706.7L135.2,708.4L136.8,709.8L138.4,709.8L140.0,709.7L141.6,709.7L143.2,710.2L144.8,710.4L146.4,710.3L148.0,711.2L149.6,712.7L151.2,712.3L152.8,710.4L154.4,711.3L156.0,714.3L157.6,714.7L159.2,713.7L160.8,714.0L162.4,713.8L164.0,713.3L165.6,713.9L167.2,714.8L168.8,715.2L170.4,714.9L172.0,713.7L173.6,712.6L175.2,713.3L176.8,714.4L178.3,714.4L179.9,715.5L181.5,716.9L183.1,715.9L184.7,715.0L186.3,715.3L187.9,715.3L189.5,715.7L191.1,716.6L192.7,716.2L194.3,714.5L195.9,714.3L197.5,715.3L199.1,717.0L200.7,717.4L202.3,716.3L203.9,715.8L205.5,715.4L207.1,715.2L208.7,715.6L210.3,717.5L211.9,718.4L213.5,717.0L215.1,716.6L216.7,716.4L218.3,716.4L219.9,717.9L221.5,719.2L223.1,719.5L224.7,720.1L226.3,720.2L227.9,719.6L229.5,718.9L231.1,718.6L232.7,718.6L234.3,717.5L235.9,716.7L237.5,716.9L239.1,717.4L240.7,717.8L242.2,717.2L243.8,717.0L245.4,718.3L247.0,718.9L248.6,717.8L250.2,716.2L251.8,715.5L253.4,715.3L255.0,716.0L256.6,717.6L258.2,717.3L259.8,716.1L261.4,715.8L263.0,715.3L264.6,713.7L266.2,712.3L267.8,712.1L269.4,711.9L271.0,711.9L272.6,713.1L274.2,713.7L275.8,711.7L277.4,710.2L279.0,711.0L280.6,710.9L282.2,708.7L283.8,706.6L285.4,707.7L287.0,709.9L288.6,711.0L290.2,709.1L291.8,706.3L293.4,707.3L295.0,707.8L296.6,703.7L298.2,699.6L299.8,697.2L301.4,696.0L303.0,692.7L304.6,688.1L306.1,688.4L307.7,689.8L309.3,690.0L310.9,689.8L312.5,687.1L314.1,682.5L315.7,680.6L317.3,682.6L318.9,680.6L320.5,671.8L322.1,664.7L323.7,663.0L325.3,661.9L326.9,657.6L328.5,653.2L330.1,649.2L331.7,645.3L333.3,643.5L334.9,642.4L336.5,635.7L338.1,625.0L339.7,620.8L341.3,615.8L342.9,610.1L344.5,608.9L346.1,603.5L347.7,597.2L349.3,595.9L350.9,595.1L352.5,593.3L354.1,591.0L355.7,585.8L357.3,579.6L358.9,574.2L360.5,570.8L362.1,572.3L363.7,571.3L365.3,565.1L366.9,560.1L368.5,557.3L370.0,555.9L371.6,553.7L373.2,550.1L374.8,550.0L376.4,552.4L378.0,549.2L379.6,540.2L381.2,534.4L382.8,535.7L384.4,536.7L386.0,540.7L387.6,541.3L389.2,529.8L390.8,521.5L392.4,524.3L394.0,529.5L395.6,526.3L397.2,525.2L398.8,527.1L400.4,522.1L402.0,517.7L403.6,517.9L405.2,521.6L406.8,520.3L408.4,517.2L410.0,514.6L411.6,503.5L413.2,494.5L414.8,494.5L416.4,490.8L418.0,485.9L419.6,489.8L421.2,500.1L422.8,503.9L424.4,497.4L426.0,494.8L427.6,493.6L429.2,487.8L430.8,490.6L432.4,496.9L433.9,494.0L435.5,488.9L437.1,486.2L438.7,485.0L440.3,486.3L441.9,491.2L443.5,494.2L445.1,493.3L446.7,492.3L448.3,488.7L449.9,488.2L451.5,494.5L453.1,499.6L454.7,506.1L456.3,510.7L457.9,511.8L459.5,512.6L461.1,511.3L462.7,513.7L464.3,515.0L465.9,509.5L467.5,509.1L469.1,522.0L470.7,531.9L472.3,528.8L473.9,522.5L475.5,521.0L477.1,528.0L478.7,532.6L480.3,527.9L481.9,528.1L483.5,534.6L485.1,537.2L486.7,532.7L488.3,531.5L489.9,542.1L491.5,549.2L493.1,546.8L494.7,545.8L496.3,547.5L497.8,545.9L499.4,540.2L501.0,539.3L502.6,546.7L504.2,552.2L505.8,556.0L507.4,561.3L509.0,558.7L510.6,551.3L512.2,542.9L513.8,535.1L515.4,536.7L517.0,540.2L518.6,542.9L520.2,550.6L521.8,555.3L523.4,554.6L525.0,547.3L526.6,541.0L528.2,547.5L529.8,553.0L531.4,549.0L533.0,544.6L534.6,543.3L536.2,546.7L537.8,553.9L539.4,555.1L541.0,550.2L542.6,543.8L544.2,542.6L545.8,546.6L547.4,545.1L549.0,542.0L550.6,542.1L552.2,546.7L553.8,546.2L555.4,537.2L557.0,539.5L558.6,544.8L560.2,540.8L561.7,539.3L563.3,537.4L564.9,536.3L566.5,534.6L568.1,527.9L569.7,522.5L571.3,516.4L572.9,514.2L574.5,514.8L576.1,509.3L577.7,506.4L579.3,513.9L580.9,517.5L582.5,509.7L584.1,498.7L585.7,495.4L587.3,498.5L588.9,503.7L590.5,504.2L592.1,496.7L593.7,495.8L595.3,498.8L596.9,497.0L598.5,494.8L600.1,495.3L601.7,495.4L603.3,495.8L604.9,498.8L606.5,498.0L608.1,493.0L609.7,489.5L611.3,485.9L612.9,488.4L614.5,502.3L616.1,509.1L617.7,499.7L619.3,491.7L620.9,499.6L622.5,504.3L624.1,495.5L625.6,498.7L627.2,511.2L628.8,512.0L630.4,508.8L632.0,510.4L633.6,510.0L635.2,508.7L636.8,508.0L638.4,508.2L640.0,510.3L641.6,513.0L643.2,522.4L644.8,534.9L646.4,540.6L648.0,538.0L649.6,532.2L651.2,540.0L652.8,554.5L654.4,555.4L656.0,552.5L657.6,554.4L659.2,558.9L660.8,559.3L662.4,559.3L664.0,568.4L665.6,574.9L667.2,576.2L668.8,581.7L670.4,591.9L672.0,600.1L673.6,604.6L675.2,607.7L676.8,606.5L678.4,606.8L680.0,608.9L681.6,613.0L683.2,622.0L684.8,626.5L686.4,631.2L688.0,637.0L689.5,636.6L691.1,635.9L692.7,640.1L694.3,646.0L695.9,650.8L697.5,653.3L699.1,651.2L700.7,652.6L702.3,660.3L703.9,667.8L705.5,673.0L707.1,675.4L708.7,677.1L710.3,681.2L711.9,683.3L713.5,682.1L715.1,683.9L716.7,687.1L718.3,690.7L719.9,693.0L721.5,692.5L723.1,696.1L724.7,701.4L726.3,702.5L727.9,703.0L729.5,702.4L731.1,701.6L732.7,702.9L734.3,704.1L735.9,705.1L737.5,704.8L739.1,706.8L740.7,709.0L742.3,707.1L743.9,706.6L745.5,707.2L747.1,707.6L748.7,708.3L750.3,707.2L751.9,705.8L753.4,706.2L755.0,707.4L756.6,708.1L758.2,708.3L759.8,707.9L761.4,707.4L763.0,708.0L764.6,708.7L766.2,707.6L767.8,705.4L769.4,704.5L771.0,705.3L772.6,704.9L774.2,702.8L775.8,703.5L777.4,705.5L779.0,702.5L780.6,698.8L782.2,699.9L783.8,701.1L785.4,698.3L787.0,695.9L788.6,695.2L790.2,694.0L791.8,693.2L793.4,690.9L795.0,686.0L796.6,682.0L798.2,680.9L799.8,680.3L801.4,682.3L803.0,685.9L804.6,683.7L806.2,680.0L807.8,682.4L809.4,680.3L811.0,673.5L812.6,673.4L814.2,670.7L815.8,664.4L817.3,663.4L818.9,661.5L820.5,658.9L822.1,657.4L823.7,653.8L825.3,648.1L826.9,647.0L828.5,648.3L830.1,645.4L831.7,645.4L833.3,645.4L834.9,643.3L836.5,645.5L838.1,643.9L839.7,639.3L841.3,644.4L842.9,654.9L844.5,655.5L846.1,646.4L847.7,639.2L849.3,639.2L850.9,646.5L852.5,650.2L854.1,645.0L855.7,639.5L857.3,640.5L858.9,647.2L860.5,651.5L862.1,649.0L863.7,647.1L865.3,651.8L866.9,655.2L868.5,654.4L870.1,654.8L871.7,653.3L873.3,650.2L874.9,653.1L876.5,658.2L878.1,660.8L879.7,660.2L881.2,657.2L882.8,657.2L884.4,660.7L886.0,661.6L887.6,661.1L889.2,658.9L890.8,655.8L892.4,656.3L894.0,653.8L895.6,651.4L897.2,655.0L898.8,655.3L900.4,650.4L902.0,646.2L903.6,644.9L905.2,642.3L906.8,639.9L908.4,642.5L910.0,642.0L911.6,636.9L913.2,633.3L914.8,629.3L916.4,629.4L918.0,636.7L919.6,637.6L921.2,629.3L922.8,624.0L924.4,623.5L926.0,621.5L927.6,616.5L929.2,612.8L930.8,608.2L932.4,604.1L934.0,604.1L935.6,604.9L937.2,598.6L938.8,591.9L940.4,594.4L942.0,595.8L943.6,596.5L945.1,591.1L946.7,582.5L948.3,580.4L949.9,577.9L951.5,575.2L953.1,575.4L954.7,579.7L956.3,576.0L957.9,565.1L959.5,565.8L961.1,571.5L962.7,575.7L964.3,577.9L965.9,573.4L967.5,570.6L969.1,564.9L970.7,556.9L972.3,559.7L973.9,564.7L975.5,562.4L977.1,555.2L978.7,554.1L980.3,561.7L981.9,564.5L983.5,558.6L985.1,558.0L986.7,559.1L988.3,553.9L989.9,553.4L991.5,554.9L993.1,556.1L994.7,553.8L996.3,547.7L997.9,550.9L999.5,555.5L1001.1,551.3"/>
<path d="M17.0,594.4L18.6,588.9L20.2,592.5L21.8,603.7L23.4,609.7L25.0,609.3L26.6,607.7L28.2,608.1L29.8,614.6L31.4,619.4L33.0,615.0L34.6,615.1L36.2,620.0L37.8,625.4L39.4,629.1L41.0,627.2L42.6,628.8L44.2,636.2L45.8,639.9L47.4,643.2L49.0,653.9L50.5,659.9L52.1,658.7L53.7,665.8L55.3,674.9L56.9,675.3L58.5,676.0L60.1,682.0L61.7,684.0L63.3,678.3L64.9,675.9L66.5,681.9L68.1,685.8L69.7,683.8L71.3,684.4L72.9,687.8L74.5,687.7L76.1,688.7L77.7,694.3L79.3,697.6L80.9,696.8L82.5,695.8L84.1,698.1L85.7,703.1L87.3,705.4L88.9,706.8L90.5,707.4L92.1,704.5L93.7,703.4L95.3,703.7L96.9,701.6L98.5,701.1L100.1,702.6L101.7,702.9L103.3,704.5L104.9,706.7L106.5,705.4L108.1,706.1L109.7,708.6L111.3,707.7L112.9,706.1L114.4,706.0L116.0,707.1L117.6,707.2L119.2,707.4L120.8,708.1L122.4,707.3L124.0,706.9L125.6,707.4L127.2,707.4L128.8,706.1L130.4,706.3L132.0,707.4L133.6,706.3L135.2,704.3L136.8,705.8L138.4,708.9L140.0,708.1L141.6,707.3L143.2,709.4L144.8,709.6L146.4,708.8L148.0,709.6L149.6,708.3L151.2,708.0L152.8,711.1L154.4,712.2L156.0,711.6L157.6,709.1L159.2,705.7L160.8,706.9L162.4,711.5L164.0,711.6L165.6,708.2L167.2,706.9L168.8,708.9L170.4,710.9L172.0,710.5L173.6,710.4L175.2,711.4L176.8,711.6L178.3,710.4L179.9,710.1L181.5,710.9L183.1,712.3L184.7,713.4L186.3,711.8L187.9,709.8L189.5,711.6L191.1,712.5L192.7,710.0L194.3,708.0L195.9,707.8L197.5,710.2L199.1,713.2L200.7,713.1L202.3,708.8L203.9,707.5L205.5,711.5L207.1,712.9L208.7,712.0L210.3,712.9L211.9,713.2L213.5,712.5L215.1,711.2L216.7,710.3L218.3,710.6L219.9,711.0L221.5,711.8L223.1,713.6L224.7,716.2L226.3,715.3L227.9,712.6L229.5,712.1L231.1,711.4L232.7,710.1L234.3,709.3L235.9,709.4L237.5,710.3L239.1,712.2L240.7,713.9L242.2,714.2L243.8,714.3L245.4,714.5L247.0,713.6L248.6,712.0L250.2,711.4L251.8,712.9L253.4,714.0L255.0,711.8L256.6,709.0L258.2,707.4L259.8,707.9L261.4,709.9L263.0,708.3L264.6,704.2L266.2,702.4L267.8,700.6L269.4,701.0L271.0,704.4L272.6,704.2L274.2,702.0L275.8,701.0L277.4,700.5L279.0,700.5L280.6,702.1L282.2,703.8L283.8,702.6L285.4,700.6L287.0,699.1L288.6,697.3L290.2,694.1L291.8,691.8L293.4,691.9L295.0,691.7L296.6,691.9L298.2,692.2L299.8,691.3L301.4,689.0L303.0,685.5L304.6,682.5L306.1,682.9L307.7,683.2L309.3,679.5L310.9,679.9L312.5,680.3L314.1,676.7L315.7,673.2L317.3,669.9L318.9,670.6L320.5,671.7L322.1,664.2L323.7,653.8L325.3,654.4L326.9,657.3L328.5,655.1L330.1,648.6L331.7,641.0L333.3,640.8L334.9,635.7L336.5,632.1L338.1,634.5L339.7,625.8L341.3,616.0L342.9,614.6L344.5,612.5L346.1,608.8L347.7,608.2L349.3,608.2L350.9,605.8L352.5,604.9L354.1,604.5L355.7,600.6L357.3,602.4L358.9,603.1L360.5,590.6L362.1,578.7L363.7,580.9L365.3,585.6L366.9,583.8L368.5,583.5L370.0,581.7L371.6,583.8L373.2,586.9L374.8,579.6L376.4,575.3L378.0,576.5L379.6,578.0L381.2,577.0L382.8,566.3L384.4,549.1L386.0,542.0L387.6,545.0L389.2,546.1L390.8,555.0L392.4,562.0L394.0,551.9L395.6,544.9L397.2,545.9L398.8,541.9L400.4,541.0L402.0,550.0L403.6,553.0L405.2,545.2L406.8,539.8L408.4,534.6L410.0,522.0L411.6,517.9L413.2,524.3L414.8,521.5L416.4,515.3L418.0,513.4L419.6,515.3L421.2,518.8L422.8,510.6L424.4,501.2L426.0,509.2L427.6,518.5L429.2,512.4L430.8,506.8L432.4,513.9L433.9,516.4L435.5,515.0L437.1,521.3L438.7,521.0L440.3,523.1L441.9,525.3L443.5,516.5L445.1,520.1L446.7,528.1L448.3,525.5L449.9,532.4L451.5,542.6L453.1,537.0L454.7,526.2L456.3,523.1L457.9,526.3L459.5,528.3L461.1,529.2L462.7,529.1L464.3,527.3L465.9,531.0L467.5,534.7L469.1,540.2L470.7,551.1L472.3,549.3L473.9,540.2L475.5,545.3L477.1,553.6L478.7,556.6L480.3,559.8L481.9,562.7L483.5,565.2L485.1,569.7L486.7,570.7L488.3,565.3L489.9,571.6L491.5,580.0L493.1,575.9L494.7,571.5L496.3,573.1L497.8,575.1L499.4,560.3L501.0,551.3L502.6,566.6L504.2,573.9L505.8,571.7L507.4,576.9L509.0,585.7L510.6,583.1L512.2,573.1L513.8,566.3L515.4,564.9L517.0,571.4L518.6,565.0L520.2,556.9L521.8,571.1L523.4,580.1L525.0,574.9L526.6,569.2L528.2,565.4L529.8,568.9L531.4,572.6L533.0,561.1L534.6,546.5L536.2,558.7L537.8,578.4L539.4,575.8L541.0,566.4L542.6,560.6L544.2,553.1L545.8,544.3L547.4,542.9L549.0,547.2L550.6,551.2L552.2,552.3L553.8,546.1L555.4,539.6L557.0,542.5L558.6,543.5L560.2,537.4L561.7,538.1L563.3,543.6L564.9,546.5L566.5,545.7L568.1,550.6L569.7,550.7L571.3,532.4L572.9,523.7L574.5,524.7L576.1,519.5L577.7,518.4L579.3,529.6L580.9,540.7L582.5,531.9L584.1,514.7L585.7,503.3L587.3,498.8L588.9,509.0L590.5,531.1L592.1,537.1L593.7,523.1L595.3,513.8L596.9,512.7L598.5,515.6L600.1,522.8L601.7,526.9L603.3,523.0L604.9,520.5L606.5,518.8L608.1,518.6L609.7,522.1L611.3,523.9L612.9,523.9L614.5,522.6L616.1,527.3L617.7,537.3L619.3,535.4L620.9,528.4L622.5,531.4L624.1,534.3L625.6,539.7L627.2,550.4L628.8,554.0L630.4,550.9L632.0,548.5L633.6,554.2L635.2,565.3L636.8,568.0L638.4,560.3L640.0,563.3L641.6,576.5L643.2,577.4L644.8,574.8L646.4,577.6L648.0,580.5L649.6,577.6L651.2,574.7L652.8,580.9L654.4,587.0L656.0,593.2L657.6,598.8L659.2,599.5L660.8,604.4L662.4,610.2L664.0,610.7L665.6,609.6L667.2,609.7L668.8,615.3L670.4,617.5L672.0,612.3L673.6,611.7L675.2,616.0L676.8,623.3L678.4,632.1L680.0,637.8L681.6,637.4L683.2,635.7L684.8,643.3L686.4,652.1L688.0,654.7L689.5,656.4L691.1,657.7L692.7,662.8L694.3,665.1L695.9,661.4L697.5,664.7L699.1,668.7L700.7,659.9L702.3,658.0L703.9,665.4L705.5,666.1L707.1,671.1L708.7,676.7L710.3,679.4L711.9,679.8L713.5,674.1L715.1,676.0L716.7,683.4L718.3,687.9L719.9,690.8L721.5,687.7L723.1,687.1L724.7,693.1L726.3,693.4L727.9,689.0L729.5,686.0L731.1,687.6L732.7,693.9L734.3,696.4L735.9,695.2L737.5,696.3L739.1,695.8L740.7,691.4L742.3,690.0L743.9,693.6L745.5,695.8L747.1,697.6L748.7,700.7L750.3,700.4L751.9,696.0L753.4,690.4L755.0,691.0L756.6,695.3L758.2,700.1L759.8,702.5L761.4,695.6L763.0,691.9L764.6,695.0L766.2,694.1L767.8,694.9L769.4,697.4L771.0,692.7L772.6,689.2L774.2,691.8L775.8,692.5L777.4,693.4L779.0,696.1L780.6,692.7L782.2,690.2L783.8,691.8L785.4,689.9L787.0,693.0L788.6,697.0L790.2,694.0L791.8,690.8L793.4,689.7L795.0,688.1L796.6,685.3L798.2,685.1L799.8,685.4L801.4,685.7L803.0,682.6L804.6,676.8L806.2,677.5L807.8,682.5L809.4,680.9L811.0,671.5L812.6,668.7L814.2,671.2L815.8,672.0L817.3,674.6L818.9,675.1L820.5,669.7L822.1,662.2L823.7,660.3L825.3,660.0L826.9,653.7L828.5,649.8L830.1,649.0L831.7,648.0L833.3,650.5L834.9,650.3L836.5,647.4L838.1,645.6L839.7,647.2L841.3,648.2L842.9,645.4L844.5,648.2L846.1,653.9L847.7,654.3L849.3,647.1L850.9,641.0L852.5,642.4L854.1,651.2L855.7,662.9L857.3,665.9L858.9,665.5L860.5,664.2L862.1,660.0L863.7,662.1L865.3,665.9L866.9,669.2L868.5,676.1L870.1,680.6L871.7,678.8L873.3,674.3L874.9,672.6L876.5,671.6L878.1,674.8L879.7,682.7L881.2,683.0L882.8,681.3L884.4,684.3L886.0,680.3L887.6,671.2L889.2,667.0L890.8,668.6L892.4,673.0L894.0,672.8L895.6,670.1L897.2,671.1L898.8,668.0L900.4,664.8L902.0,669.5L903.6,671.9L905.2,667.2L906.8,662.1L908.4,660.6L910.0,660.0L911.6,662.4L913.2,668.2L914.8,666.0L916.4,660.5L918.0,662.6L919.6,665.2L921.2,663.1L922.8,657.2L924.4,651.9L926.0,647.7L927.6,636.2L929.2,626.4L930.8,624.6L932.4,620.9L934.0,622.7L935.6,627.8L937.2,626.4L938.8,621.1L940.4,616.6L942.0,613.5L943.6,605.2L945.1,607.6L946.7,614.1L948.3,601.9L949.9,594.6L951.5,598.7L953.1,601.3L954.7,604.4L956.3,604.4L957.9,601.7L959.5,599.8L961.1,607.4L962.7,608.4L964.3,586.3L965.9,573.2L967.5,578.6L969.1,579.1L970.7,578.8L972.3,579.1L973.9,570.4L975.5,568.8L977.1,576.3L978.7,573.8L980.3,574.2L981.9,575.7L983.5,561.0L985.1,557.9L986.7,565.6L988.3,562.5L989.9,564.6L991.5,565.5L993.1,559.4L994.7,561.4L996.3,560.8L997.9,553.7L999.5,552.6L1001.1,558.4"/>
<path d="M17.0,661.5L18.6,659.1L20.2,659.0L21.8,658.8L23.4,661.4L25.0,669.4L26.6,674.3L28.2,674.4L29.8,670.3L31.4,667.1L33.0,668.6L34.6,673.6L36.2,678.3L37.8,678.0L39.4,674.5L41.0,669.7L42.6,669.0L44.2,672.9L45.8,676.1L47.4,676.5L49.0,678.0L50.5,682.4L52.1,684.9L53.7,685.8L55.3,687.7L56.9,689.0L58.5,689.8L60.1,689.6L61.7,690.4L63.3,692.5L64.9,692.2L66.5,693.8L68.1,697.2L69.7,698.6L71.3,698.1L72.9,697.7L74.5,698.8L76.1,700.3L77.7,699.4L79.3,698.2L80.9,701.1L82.5,703.7L84.1,703.9L85.7,704.7L87.3,705.3L88.9,706.2L90.5,709.2L92.1,711.3L93.7,710.1L95.3,709.0L96.9,709.5L98.5,709.1L100.1,709.3L101.7,710.0L103.3,709.0L104.9,708.2L106.5,708.8L108.1,709.4L109.7,709.1L111.3,709.3L112.9,711.3L114.4,712.6L116.0,713.2L117.6,715.1L119.2,716.5L120.8,715.7L122.4,714.0L124.0,714.5L125.6,717.1L127.2,717.9L128.8,716.5L130.4,715.5L132.0,715.1L133.6,714.1L135.2,713.7L136.8,714.5L138.4,715.7L140.0,717.5L141.6,717.8L143.2,716.2L144.8,715.1L146.4,715.0L148.0,715.1L149.6,715.1L151.2,716.4L152.8,718.8L154.4,718.5L156.0,716.7L157.6,717.2L159.2,718.0L160.8,717.2L162.4,717.5L164.0,718.0L165.6,717.2L167.2,717.7L168.8,718.6L170.4,717.7L172.0,718.0L173.6,719.2L175.2,720.2L176.8,721.3L178.3,720.3L179.9,719.2L181.5,719.6L183.1,719.6L184.7,719.2L186.3,718.5L187.9,718.0L189.5,718.8L191.1,719.3L192.7,717.8L194.3,717.1L195.9,718.5L197.5,720.0L199.1,720.3L200.7,718.8L202.3,717.7L203.9,718.1L205.5,719.8L207.1,720.6L208.7,719.3L210.3,719.3L211.9,721.4L213.5,722.0L215.1,720.7L216.7,718.9L218.3,718.1L219.9,720.0L221.5,721.4L223.1,721.8L224.7,722.8L226.3,721.5L227.9,719.5L229.5,720.3L231.1,722.0L232.7,722.1L234.3,720.5L235.9,719.7L237.5,720.4L239.1,720.9L240.7,720.5L242.2,720.6L243.8,721.0L245.4,721.7L247.0,723.4L248.6,723.5L250.2,721.9L251.8,721.7L253.4,721.9L255.0,720.5L256.6,719.2L258.2,719.5L259.8,719.6L261.4,719.2L263.0,720.0L264.6,721.1L266.2,720.0L267.8,719.0L269.4,719.9L271.0,719.9L272.6,719.8L274.2,720.4L275.8,719.9L277.4,718.3L279.0,717.2L280.6,717.7L282.2,718.6L283.8,717.6L285.4,715.6L287.0,714.4L288.6,713.8L290.2,713.2L291.8,712.6L293.4,713.2L295.0,714.2L296.6,714.1L298.2,715.0L299.8,716.4L301.4,713.9L303.0,710.3L304.6,711.7L306.1,713.1L307.7,709.5L309.3,705.5L310.9,704.5L312.5,704.0L314.1,703.1L315.7,700.5L317.3,696.5L318.9,695.0L320.5,694.3L322.1,690.8L323.7,688.6L325.3,688.7L326.9,686.5L328.5,683.9L330.1,680.2L331.7,673.8L333.3,671.6L334.9,672.7L336.5,672.0L338.1,662.9L339.7,652.5L341.3,650.1L342.9,646.8L344.5,641.8L346.1,636.9L347.7,634.8L349.3,636.5L350.9,634.2L352.5,629.5L354.1,626.8L355.7,625.9L357.3,623.4L358.9,616.8L360.5,611.6L362.1,613.8L363.7,616.0L365.3,612.3L366.9,608.0L368.5,601.4L370.0,596.1L371.6,597.8L373.2,598.8L374.8,596.2L376.4,591.6L378.0,582.8L379.6,573.8L381.2,575.1L382.8,574.9L384.4,571.8L386.0,575.0L387.6,571.2L389.2,565.7L390.8,568.5L392.4,572.3L394.0,573.4L395.6,570.7L397.2,572.2L398.8,578.8L400.4,574.9L402.0,567.8L403.6,570.8L405.2,572.8L406.8,567.4L408.4,560.1L410.0,550.1L411.6,544.2L413.2,551.5L414.8,557.8L416.4,553.6L418.0,546.6L419.6,535.6L421.2,527.8L422.8,525.8L424.4,520.1L426.0,518.9L427.6,527.1L429.2,533.4L430.8,535.3L432.4,533.6L433.9,526.6L435.5,521.2L437.1,519.3L438.7,526.8L440.3,533.9L441.9,525.2L443.5,514.8L445.1,516.6L446.7,527.9L448.3,531.5L449.9,528.9L451.5,532.8L453.1,536.4L454.7,526.2L456.3,514.6L457.9,522.7L459.5,531.6L461.1,528.7L462.7,522.3L464.3,516.6L465.9,517.1L467.5,522.6L469.1,528.8L470.7,534.7L472.3,543.3L473.9,543.7L475.5,537.5L477.1,540.6L478.7,545.9L480.3,551.4L481.9,556.6L483.5,562.1L485.1,567.6L486.7,565.6L488.3,561.5L489.9,560.8L491.5,561.7L493.1,563.3L494.7,567.7L496.3,576.8L497.8,584.7L499.4,579.4L501.0,571.4L502.6,573.1L504.2,576.9L505.8,582.2L507.4,581.7L509.0,575.5L510.6,575.4L512.2,577.2L513.8,581.5L515.4,592.2L517.0,597.9L518.6,595.8L520.2,599.4L521.8,598.3L523.4,585.6L525.0,580.4L526.6,583.2L528.2,586.1L529.8,586.7L531.4,585.3L533.0,585.6L534.6,585.0L536.2,589.1L537.8,594.2L539.4,589.7L541.0,585.6L542.6,581.5L544.2,581.1L545.8,585.5L547.4,582.5L549.0,582.1L550.6,588.1L552.2,588.8L553.8,590.0L555.4,594.0L557.0,588.6L558.6,581.7L560.2,584.1L561.7,586.2L563.3,577.1L564.9,563.9L566.5,561.6L568.1,568.2L569.7,570.8L571.3,566.6L572.9,564.2L574.5,564.7L576.1,560.7L577.7,553.0L579.3,555.9L580.9,561.9L582.5,554.3L584.1,546.3L585.7,545.0L587.3,545.7L588.9,542.2L590.5,545.2L592.1,552.7L593.7,544.1L595.3,543.9L596.9,558.8L598.5,560.3L600.1,550.8L601.7,545.1L603.3,540.6L604.9,540.8L606.5,542.2L608.1,540.2L609.7,540.9L611.3,540.9L612.9,541.4L614.5,543.7L616.1,543.9L617.7,549.4L619.3,558.6L620.9,559.6L622.5,558.4L624.1,563.7L625.6,569.2L627.2,566.7L628.8,562.0L630.4,559.1L632.0,559.9L633.6,568.0L635.2,574.2L636.8,575.9L638.4,577.9L640.0,583.9L641.6,587.9L643.2,582.0L644.8,576.8L646.4,582.7L648.0,593.2L649.6,592.8L651.2,589.4L652.8,595.6L654.4,602.1L656.0,603.8L657.6,603.2L659.2,601.1L660.8,602.2L662.4,609.7L664.0,619.6L665.6,627.4L667.2,630.7L668.8,632.1L670.4,635.7L672.0,636.5L673.6,635.7L675.2,639.6L676.8,644.4L678.4,647.2L680.0,644.2L681.6,643.5L683.2,650.6L684.8,654.1L686.4,655.3L688.0,657.1L689.5,660.2L691.1,665.2L692.7,668.5L694.3,671.8L695.9,676.1L697.5,676.3L699.1,674.5L700.7,676.2L702.3,676.5L703.9,679.1L705.5,682.9L707.1,684.0L708.7,686.4L710.3,686.0L711.9,686.9L713.5,693.4L715.1,698.2L716.7,696.8L718.3,694.9L719.9,699.6L721.5,703.4L723.1,703.1L724.7,704.5L726.3,707.2L727.9,710.4L729.5,712.7L731.1,712.7L732.7,713.4L734.3,714.7L735.9,715.0L737.5,714.0L739.1,712.5L740.7,712.3L742.3,713.6L743.9,715.7L745.5,716.7L747.1,715.7L748.7,714.7L750.3,714.9L751.9,716.1L753.4,716.7L755.0,717.2L756.6,718.4L758.2,718.2L759.8,717.6L761.4,718.3L763.0,717.5L764.6,716.2L766.2,716.1L767.8,716.9L769.4,717.8L771.0,717.5L772.6,716.5L774.2,715.6L775.8,715.3L777.4,714.6L779.0,713.3L780.6,714.0L782.2,715.6L783.8,715.8L785.4,715.4L787.0,714.2L788.6,712.3L790.2,712.5L791.8,714.0L793.4,714.9L795.0,714.8L796.6,713.0L798.2,710.7L799.8,710.6L801.4,711.5L803.0,712.7L804.6,713.1L806.2,711.4L807.8,709.8L809.4,709.1L811.0,709.8L812.6,710.3L814.2,709.7L815.8,708.8L817.3,707.1L818.9,706.7L820.5,706.8L822.1,706.9L823.7,706.8L825.3,705.9L826.9,704.2L828.5,703.0L830.1,703.6L831.7,704.6L833.3,705.1L834.9,705.2L836.5,703.4L838.1,701.4L839.7,701.0L841.3,701.1L842.9,702.2L844.5,704.4L846.1,704.5L847.7,699.8L849.3,697.0L850.9,698.2L852.5,697.5L854.1,698.2L855.7,700.0L857.3,700.0L858.9,701.0L860.5,699.8L862.1,697.2L863.7,698.7L865.3,699.6L866.9,698.1L868.5,699.3L870.1,699.8L871.7,698.8L873.3,699.0L874.9,700.7L876.5,699.1L878.1,695.3L879.7,697.0L881.2,701.0L882.8,701.2L884.4,695.7L886.0,689.6L887.6,685.7L889.2,683.1L890.8,684.8L892.4,688.5L894.0,688.1L895.6,686.0L897.2,686.7L898.8,688.6L900.4,689.0L902.0,684.1L903.6,679.0L905.2,680.3L906.8,684.9L908.4,685.9L910.0,678.9L911.6,673.0L913.2,671.6L914.8,674.2L916.4,679.3L918.0,678.3L919.6,672.3L921.2,671.0L922.8,671.6L924.4,668.8L926.0,664.3L927.6,659.7L929.2,659.9L930.8,659.9L932.4,655.3L934.0,648.4L935.6,642.7L937.2,645.0L938.8,646.8L940.4,641.3L942.0,635.8L943.6,631.4L945.1,630.2L946.7,630.4L948.3,626.3L949.9,624.0L951.5,624.5L953.1,619.9L954.7,616.6L956.3,618.8L957.9,616.8L959.5,610.1L961.1,603.7L962.7,601.9L964.3,602.5L965.9,596.1L967.5,586.5L969.1,583.5L970.7,588.9L972.3,594.6L973.9,592.0L975.5,580.9L977.1,576.2L978.7,580.1L980.3,578.3L981.9,573.6L983.5,575.3L985.1,578.7L986.7,578.5L988.3,581.2L989.9,584.0L991.5,580.3L993.1,580.0L994.7,582.6L996.3,575.7L997.9,573.3L999.5,580.6L1001.1,580.1"/>
<path d="M17.0,674.3L18.6,681.7L20.2,675.8L21.8,667.3L23.4,664.9L25.0,662.2L26.6,660.9L28.2,666.0L29.8,669.1L31.4,665.2L33.0,664.6L34.6,667.7L36.2,666.4L37.8,661.7L39.4,662.2L41.0,667.2L42.6,672.4L44.2,670.9L45.8,663.0L47.4,660.4L49.0,659.8L50.5,657.2L52.1,653.6L53.7,654.8L55.3,658.7L56.9,661.7L58.5,665.2L60.1,667.0L61.7,670.3L63.3,666.9L64.9,661.8L66.5,665.4L68.1,670.9L69.7,673.2L71.3,669.3L72.9,662.7L74.5,663.0L76.1,670.7L77.7,673.4L79.3,672.0L80.9,675.2L82.5,676.4L84.1,672.3L85.7,667.6L87.3,666.3L88.9,667.0L90.5,669.6L92.1,671.7L93.7,666.9L95.3,663.8L96.9,667.0L98.5,669.2L100.1,668.9L101.7,666.7L103.3,665.7L104.9,667.1L106.5,666.6L108.1,666.9L109.7,673.0L111.3,678.2L112.9,677.1L114.4,675.5L116.0,678.7L117.6,678.9L119.2,672.6L120.8,669.6L122.4,678.4L124.0,690.1L125.6,690.2L127.2,687.7L128.8,687.1L130.4,679.8L132.0,673.8L133.6,679.1L135.2,682.6L136.8,679.2L138.4,679.1L140.0,682.1L141.6,684.1L143.2,682.5L144.8,684.3L146.4,692.2L148.0,690.6L149.6,680.7L151.2,679.4L152.8,686.2L154.4,689.4L156.0,689.5L157.6,690.5L159.2,686.1L160.8,680.7L162.4,681.3L164.0,683.3L165.6,685.8L167.2,685.1L168.8,686.0L170.4,692.4L172.0,694.1L173.6,692.3L175.2,689.9L176.8,688.2L178.3,693.2L179.9,699.8L181.5,701.3L183.1,702.5L184.7,700.9L186.3,699.0L187.9,702.4L189.5,704.9L191.1,705.0L192.7,704.4L194.3,705.0L195.9,706.8L197.5,707.0L199.1,707.4L200.7,709.9L202.3,711.8L203.9,710.7L205.5,708.8L207.1,710.3L208.7,712.4L210.3,710.2L211.9,707.7L213.5,709.0L215.1,710.0L216.7,710.5L218.3,712.2L219.9,713.5L221.5,713.8L223.1,715.1L224.7,714.5L226.3,710.4L227.9,710.1L229.5,712.9L231.1,714.5L232.7,714.5L234.3,713.4L235.9,713.4L237.5,714.7L239.1,715.7L240.7,713.5L242.2,711.7L243.8,713.1L245.4,713.7L247.0,713.3L248.6,712.4L250.2,712.4L251.8,714.3L253.4,715.2L255.0,714.6L256.6,714.7L258.2,714.9L259.8,713.7L261.4,713.7L263.0,714.8L264.6,712.2L266.2,708.5L267.8,709.6L269.4,710.1L271.0,708.9L272.6,712.5L274.2,716.8L275.8,716.7L277.4,714.0L279.0,710.2L280.6,709.6L282.2,710.9L283.8,709.6L285.4,709.0L287.0,707.8L288.6,705.6L290.2,705.2L291.8,705.2L293.4,705.9L295.0,706.3L296.6,703.5L298.2,700.0L299.8,696.9L301.4,694.1L303.0,694.9L304.6,695.2L306.1,693.8L307.7,696.6L309.3,702.4L310.9,701.1L312.5,692.1L314.1,686.7L315.7,686.8L317.3,687.2L318.9,682.2L320.5,675.9L322.1,679.2L323.7,684.5L325.3,678.8L326.9,672.1L328.5,678.6L330.1,686.1L331.7,682.0L333.3,668.1L334.9,653.3L336.5,648.9L338.1,651.1L339.7,648.6L341.3,640.4L342.9,635.2L344.5,633.6L346.1,631.9L347.7,625.0L349.3,621.8L350.9,628.0L352.5,627.0L354.1,620.3L355.7,615.1L357.3,612.4L358.9,609.7L360.5,606.6L362.1,604.3L363.7,605.8L365.3,608.6L366.9,604.2L368.5,601.2L370.0,596.6L371.6,588.5L373.2,583.8L374.8,590.1L376.4,605.4L378.0,603.0L379.6,593.1L381.2,594.9L382.8,588.4L384.4,575.9L386.0,578.3L387.6,585.0L389.2,579.7L390.8,574.3L392.4,575.5L394.0,575.4L395.6,577.2L397.2,579.3L398.8,575.8L400.4,571.5L402.0,564.7L403.6,562.4L405.2,563.6L406.8,557.4L408.4,553.7L410.0,552.6L411.6,550.2L413.2,551.8L414.8,551.3L416.4,547.0L418.0,540.5L419.6,541.7L421.2,550.7L422.8,551.6L424.4,548.7L426.0,540.0L427.6,529.0L429.2,523.0L430.8,517.8L432.4,527.0L433.9,542.0L435.5,531.7L437.1,508.5L438.7,504.1L440.3,518.7L441.9,522.4L443.5,518.2L445.1,526.9L446.7,527.7L448.3,523.0L449.9,528.6L451.5,536.3L453.1,533.5L454.7,529.1L456.3,539.5L457.9,548.2L459.5,544.8L461.1,543.3L462.7,548.9L464.3,552.0L465.9,550.4L467.5,555.9L469.1,562.1L470.7,559.7L472.3,558.6L473.9,566.0L475.5,576.0L477.1,574.8L478.7,566.2L480.3,564.2L481.9,569.3L483.5,573.0L485.1,572.1L486.7,569.2L488.3,570.0L489.9,580.0L491.5,588.2L493.1,593.5L494.7,599.7L496.3,597.8L497.8,594.6L499.4,592.5L501.0,589.8L502.6,594.6L504.2,600.7L505.8,599.7L507.4,596.5L509.0,591.8L510.6,590.6L512.2,591.4L513.8,583.4L515.4,579.1L517.0,582.6L518.6,586.6L520.2,592.6L521.8,588.5L523.4,584.3L525.0,590.9L526.6,591.8L528.2,584.0L529.8,573.0L531.4,571.6L533.0,578.8L534.6,586.7L536.2,589.6L537.8,578.7L539.4,568.4L541.0,574.2L542.6,584.1L544.2,580.5L545.8,582.6L547.4,591.3L549.0,584.5L550.6,572.4L552.2,566.7L553.8,569.0L555.4,571.3L557.0,568.6L558.6,569.8L560.2,574.7L561.7,574.1L563.3,567.2L564.9,557.5L566.5,552.8L568.1,553.6L569.7,550.2L571.3,547.3L572.9,550.5L574.5,558.5L576.1,561.1L577.7,552.4L579.3,544.1L580.9,541.6L582.5,540.3L584.1,537.9L585.7,536.5L587.3,541.0L588.9,544.4L590.5,541.5L592.1,536.0L593.7,533.5L595.3,540.0L596.9,546.4L598.5,544.8L600.1,539.4L601.7,538.9L603.3,548.5L604.9,563.1L606.5,566.9L608.1,557.8L609.7,549.7L611.3,555.7L612.9,570.0L614.5,576.7L616.1,580.8L617.7,581.0L619.3,573.5L620.9,571.0L622.5,578.7L624.1,584.9L625.6,580.6L627.2,569.5L628.8,571.7L630.4,588.9L632.0,595.3L633.6,590.5L635.2,586.5L636.8,585.4L638.4,590.6L640.0,600.9L641.6,605.7L643.2,609.4L644.8,613.8L646.4,615.5L648.0,612.0L649.6,604.1L651.2,610.5L652.8,623.3L654.4,621.1L656.0,615.9L657.6,620.2L659.2,622.1L660.8,620.4L662.4,621.1L664.0,625.9L665.6,633.7L667.2,642.1L668.8,646.2L670.4,641.9L672.0,639.6L673.6,642.6L675.2,646.8L676.8,644.8L678.4,639.3L680.0,646.6L681.6,655.7L683.2,655.3L684.8,651.6L686.4,655.1L688.0,662.1L689.5,659.9L691.1,658.7L692.7,657.9L694.3,653.5L695.9,656.6L697.5,663.6L699.1,661.1L700.7,653.7L702.3,654.0L703.9,660.6L705.5,664.8L707.1,665.2L708.7,669.2L710.3,677.0L711.9,679.2L713.5,675.6L715.1,672.9L716.7,675.0L718.3,678.0L719.9,679.1L721.5,680.8L723.1,681.0L724.7,684.2L726.3,691.1L727.9,694.0L729.5,693.3L731.1,691.7L732.7,691.8L734.3,696.7L735.9,699.8L737.5,694.8L739.1,688.5L740.7,690.1L742.3,696.2L743.9,697.5L745.5,696.8L747.1,698.0L748.7,698.2L750.3,698.8L751.9,700.3L753.4,700.0L755.0,698.1L756.6,697.9L758.2,699.0L759.8,698.9L761.4,699.8L763.0,701.0L764.6,694.3L766.2,683.7L767.8,683.2L769.4,686.6L771.0,688.5L772.6,691.0L774.2,690.4L775.8,688.0L777.4,685.7L779.0,681.9L780.6,684.7L782.2,693.4L783.8,689.0L785.4,679.8L787.0,679.1L788.6,674.9L790.2,668.0L791.8,664.3L793.4,661.4L795.0,661.8L796.6,663.5L798.2,666.6L799.8,666.1L801.4,656.0L803.0,647.5L804.6,647.7L806.2,646.7L807.8,639.5L809.4,636.4L811.0,638.9L812.6,636.0L814.2,625.7L815.8,622.6L817.3,628.9L818.9,632.1L820.5,627.1L822.1,615.6L823.7,612.5L825.3,623.5L826.9,634.8L828.5,630.0L830.1,618.8L831.7,620.2L833.3,619.3L834.9,612.6L836.5,613.4L838.1,623.1L839.7,627.2L841.3,619.1L842.9,611.6L844.5,615.7L846.1,627.1L847.7,629.8L849.3,630.6L850.9,633.9L852.5,628.6L854.1,621.7L855.7,624.7L857.3,626.8L858.9,617.8L860.5,610.2L862.1,610.6L863.7,618.9L865.3,627.6L866.9,616.5L868.5,582.3L870.1,568.4L871.7,591.8L873.3,618.8L874.9,619.3L876.5,623.3L878.1,627.1L879.7,616.1L881.2,573.1L882.8,575.5L884.4,616.6L886.0,621.3L887.6,610.8L889.2,602.3L890.8,579.2L892.4,575.3L894.0,597.6L895.6,623.8L897.2,629.4L898.8,624.2L900.4,615.6L902.0,604.9L903.6,595.3L905.2,592.7L906.8,596.5L908.4,600.9L910.0,600.2L911.6,594.5L913.2,591.5L914.8,597.1L916.4,595.5L918.0,585.5L919.6,586.5L921.2,591.8L922.8,590.2L924.4,587.5L926.0,584.6L927.6,581.4L929.2,582.6L930.8,586.8L932.4,592.5L934.0,595.7L935.6,586.6L937.2,575.9L938.8,578.1L940.4,583.4L942.0,584.3L943.6,582.5L945.1,571.9L946.7,558.5L948.3,555.5L949.9,559.7L951.5,565.6L953.1,574.5L954.7,578.6L956.3,574.7L957.9,569.1L959.5,564.0L961.1,565.3L962.7,567.3L964.3,555.1L965.9,547.5L967.5,555.4L969.1,554.9L970.7,552.9L972.3,559.3L973.9,562.0L975.5,557.9L977.1,552.2L978.7,548.1L980.3,547.9L981.9,553.4L983.5,557.5L985.1,556.9L986.7,560.3L988.3,560.2L989.9,555.1L991.5,560.2L993.1,564.2L994.7,564.1L996.3,566.7L997.9,560.1L999.5,554.1L1001.1,556.6"/>
<path d="M17.0,712.1L18.6,714.3L20.2,717.2L21.8,717.9L23.4,715.1L25.0,712.7L26.6,713.3L28.2,713.5L29.8,714.0L31.4,714.2L33.0,713.6L34.6,715.2L36.2,714.8L37.8,713.3L39.4,715.4L41.0,717.3L42.6,717.7L44.2,718.8L45.8,720.4L47.4,719.1L49.0,716.8L50.5,717.6L52.1,718.8L53.7,718.5L55.3,718.5L56.9,718.7L58.5,719.7L60.1,720.8L61.7,720.4L63.3,719.9L64.9,719.6L66.5,720.3L68.1,721.4L69.7,721.6L71.3,721.1L72.9,720.2L74.5,719.9L76.1,720.6L77.7,720.9L79.3,720.2L80.9,720.0L82.5,719.7L84.1,720.5L85.7,722.2L87.3,722.3L88.9,722.0L90.5,721.1L92.1,720.0L93.7,720.1L95.3,721.4L96.9,722.9L98.5,722.6L100.1,721.5L101.7,721.6L103.3,722.4L104.9,722.2L106.5,722.8L108.1,724.7L109.7,724.5L111.3,723.7L112.9,724.6L114.4,724.5L116.0,722.7L117.6,722.5L119.2,723.2L120.8,723.5L122.4,723.9L124.0,724.3L125.6,723.9L127.2,722.5L128.8,722.0L130.4,723.2L132.0,723.7L133.6,724.2L135.2,724.6L136.8,723.3L138.4,722.7L140.0,723.3L141.6,723.2L143.2,722.9L144.8,721.8L146.4,721.7L148.0,724.1L149.6,725.7L151.2,725.4L152.8,725.6L154.4,725.5L156.0,723.6L157.6,722.1L159.2,722.8L160.8,724.5L162.4,725.6L164.0,725.6L165.6,724.8L167.2,723.8L168.8,723.6L170.4,723.6L172.0,723.5L173.6,723.0L175.2,722.2L176.8,722.5L178.3,723.3L179.9,723.0L181.5,722.0L183.1,721.6L184.7,721.8L186.3,722.1L187.9,723.3L189.5,724.6L191.1,724.5L192.7,723.8L194.3,724.5L195.9,724.5L197.5,723.3L199.1,723.8L200.7,723.9L202.3,722.8L203.9,722.6L205.5,722.7L207.1,722.9L208.7,722.2L210.3,721.8L211.9,721.8L213.5,721.7L215.1,722.9L216.7,723.7L218.3,722.8L219.9,722.4L221.5,723.3L223.1,723.8L224.7,722.7L226.3,722.1L227.9,723.8L229.5,724.9L231.1,723.8L232.7,723.0L234.3,723.5L235.9,724.4L237.5,725.2L239.1,724.2L240.7,722.9L242.2,722.5L243.8,722.3L245.4,722.9L247.0,723.6L248.6,724.0L250.2,725.0L251.8,724.2L253.4,722.1L255.0,722.8L256.6,724.4L258.2,723.8L259.8,723.7L261.4,724.1L263.0,723.2L264.6,722.1L266.2,722.2L267.8,723.9L269.4,724.1L271.0,724.0L272.6,724.0L274.2,721.4L275.8,720.3L277.4,721.9L279.0,722.3L280.6,722.0L282.2,722.2L283.8,721.9L285.4,721.8L287.0,721.6L288.6,720.3L290.2,718.8L291.8,719.2L293.4,721.4L295.0,722.3L296.6,722.0L298.2,720.9L299.8,720.2L301.4,721.4L303.0,722.7L304.6,722.0L306.1,719.3L307.7,716.9L309.3,716.8L310.9,718.5L312.5,719.6L314.1,719.9L315.7,720.6L317.3,719.6L318.9,717.2L320.5,716.6L322.1,716.7L323.7,715.6L325.3,713.3L326.9,712.8L328.5,714.2L330.1,714.3L331.7,712.2L333.3,709.0L334.9,707.8L336.5,707.0L338.1,704.9L339.7,706.1L341.3,709.3L342.9,709.4L344.5,705.9L346.1,703.7L347.7,703.5L349.3,701.5L350.9,700.0L352.5,700.4L354.1,698.9L355.7,697.5L357.3,699.7L358.9,701.7L360.5,700.6L362.1,697.8L363.7,697.0L365.3,701.2L366.9,703.8L368.5,701.2L370.0,699.9L371.6,700.1L373.2,698.8L374.8,697.0L376.4,696.9L378.0,699.4L379.6,699.9L381.2,698.1L382.8,695.7L384.4,692.1L386.0,691.4L387.6,690.8L389.2,688.0L390.8,686.9L392.4,686.2L394.0,686.3L395.6,688.2L397.2,688.5L398.8,688.9L400.4,690.1L402.0,687.2L403.6,682.8L405.2,684.0L406.8,683.2L408.4,679.6L410.0,681.9L411.6,681.1L413.2,676.3L414.8,676.6L416.4,678.8L418.0,674.5L419.6,664.2L421.2,653.4L422.8,646.7L424.4,642.8L426.0,635.1L427.6,627.6L429.2,625.6L430.8,627.6L432.4,628.0L433.9,625.8L435.5,622.9L437.1,616.5L438.7,614.9L440.3,619.7L441.9,618.9L443.5,612.4L445.1,609.0L446.7,609.8L448.3,609.0L449.9,607.7L451.5,606.8L453.1,603.6L454.7,597.2L456.3,591.8L457.9,594.3L459.5,595.4L461.1,587.7L462.7,586.8L464.3,590.4L465.9,590.1L467.5,593.6L469.1,596.9L470.7,590.0L472.3,580.4L473.9,580.0L475.5,582.0L477.1,582.6L478.7,582.2L480.3,577.4L481.9,570.1L483.5,569.6L485.1,574.2L486.7,571.4L488.3,576.3L489.9,584.7L491.5,576.9L493.1,570.0L494.7,575.3L496.3,583.4L497.8,593.7L499.4,601.5L501.0,598.7L502.6,599.4L504.2,605.3L505.8,607.7L507.4,606.7L509.0,608.8L510.6,623.4L512.2,638.8L513.8,646.2L515.4,646.8L517.0,647.3L518.6,653.1L520.2,656.8L521.8,655.8L523.4,654.1L525.0,654.1L526.6,660.3L528.2,665.8L529.8,664.1L531.4,660.5L533.0,657.5L534.6,658.3L536.2,658.7L537.8,659.5L539.4,662.1L541.0,657.6L542.6,652.6L544.2,654.4L545.8,654.3L547.4,652.9L549.0,653.6L550.6,650.8L552.2,647.2L553.8,646.3L555.4,644.6L557.0,644.3L558.6,646.7L560.2,640.6L561.7,626.3L563.3,622.6L564.9,625.6L566.5,621.5L568.1,616.4L569.7,617.3L571.3,623.7L572.9,629.0L574.5,626.5L576.1,616.2L577.7,604.3L579.3,601.7L580.9,607.6L582.5,606.6L584.1,595.5L585.7,592.8L587.3,599.5L588.9,598.9L590.5,596.5L592.1,597.9L593.7,597.7L595.3,595.9L596.9,597.3L598.5,599.7L600.1,593.8L601.7,586.3L603.3,584.5L604.9,585.6L606.5,588.3L608.1,586.0L609.7,583.2L611.3,588.7L612.9,589.8L614.5,587.0L616.1,593.8L617.7,601.8L619.3,601.6L620.9,599.0L622.5,598.5L624.1,596.4L625.6,591.4L627.2,590.4L628.8,594.9L630.4,596.9L632.0,593.0L633.6,587.6L635.2,589.4L636.8,599.4L638.4,600.9L640.0,599.4L641.6,605.1L643.2,605.7L644.8,604.8L646.4,610.1L648.0,615.4L649.6,619.6L651.2,621.5L652.8,620.3L654.4,624.1L656.0,629.2L657.6,632.1L659.2,635.6L660.8,638.7L662.4,642.9L664.0,648.1L665.6,653.5L667.2,659.8L668.8,664.0L670.4,666.1L672.0,669.6L673.6,672.5L675.2,670.7L676.8,667.8L678.4,670.5L680.0,675.2L681.6,676.6L683.2,673.9L684.8,676.1L686.4,685.4L688.0,690.7L689.5,691.0L691.1,690.4L692.7,692.1L694.3,694.5L695.9,695.5L697.5,700.1L699.1,706.2L700.7,706.2L702.3,704.6L703.9,705.3L705.5,703.9L707.1,704.4L708.7,708.0L710.3,708.7L711.9,706.9L713.5,706.3L715.1,707.7L716.7,710.4L718.3,712.8L719.9,713.5L721.5,714.0L723.1,715.0L724.7,715.4L726.3,716.3L727.9,716.1L729.5,715.1L731.1,715.6L732.7,716.4L734.3,718.0L735.9,719.8L737.5,720.8L739.1,719.8L740.7,718.1L742.3,719.8L743.9,721.0L745.5,719.6L747.1,720.0L748.7,720.6L750.3,720.9L751.9,720.8L753.4,718.3L755.0,717.6L756.6,719.1L758.2,719.6L759.8,720.1L761.4,720.6L763.0,721.0L764.6,721.5L766.2,721.1L767.8,719.4L769.4,718.6L771.0,719.4L772.6,718.6L774.2,718.0L775.8,719.2L777.4,719.0L779.0,717.0L780.6,716.8L782.2,718.7L783.8,719.4L785.4,718.1L787.0,717.5L788.6,719.0L790.2,718.8L791.8,718.4L793.4,719.8L795.0,719.0L796.6,717.8L798.2,718.6L799.8,719.7L801.4,720.0L803.0,719.4L804.6,719.6L806.2,719.1L807.8,718.2L809.4,717.9L811.0,716.8L812.6,716.2L814.2,716.2L815.8,716.3L817.3,718.2L818.9,719.3L820.5,717.0L822.1,715.9L823.7,717.3L825.3,716.9L826.9,715.4L828.5,715.7L830.1,716.0L831.7,714.0L833.3,712.0L834.9,714.5L836.5,716.5L838.1,714.7L839.7,714.2L841.3,714.0L842.9,712.0L844.5,710.4L846.1,709.3L847.7,708.5L849.3,707.1L850.9,706.6L852.5,707.2L854.1,705.8L855.7,704.3L857.3,706.4L858.9,708.9L860.5,707.9L862.1,705.6L863.7,704.8L865.3,704.9L866.9,704.7L868.5,705.3L870.1,706.0L871.7,705.9L873.3,705.6L874.9,705.1L876.5,705.0L878.1,706.4L879.7,706.7L881.2,704.9L882.8,703.9L884.4,703.6L886.0,702.3L887.6,700.1L889.2,700.1L890.8,700.9L892.4,700.9L894.0,704.9L895.6,705.5L897.2,701.6L898.8,700.7L900.4,700.2L902.0,700.1L903.6,701.5L905.2,700.9L906.8,697.1L908.4,693.1L910.0,691.2L911.6,691.6L913.2,690.6L914.8,690.7L916.4,693.9L918.0,689.8L919.6,681.5L921.2,678.0L922.8,677.2L924.4,676.5L926.0,677.2L927.6,683.1L929.2,688.4L930.8,684.5L932.4,675.6L934.0,670.0L935.6,671.3L937.2,669.9L938.8,665.9L940.4,664.9L942.0,659.9L943.6,654.2L945.1,652.8L946.7,653.3L948.3,655.0L949.9,650.7L951.5,638.9L953.1,630.8L954.7,632.2L956.3,633.7L957.9,627.5L959.5,622.3L961.1,621.8L962.7,617.5L964.3,612.3L965.9,610.5L967.5,608.5L969.1,600.8L970.7,594.1L972.3,597.0L973.9,604.8L975.5,605.9L977.1,596.9L978.7,590.5L980.3,586.9L981.9,586.1L983.5,589.1L985.1,590.7L986.7,583.7L988.3,569.5L989.9,565.1L991.5,565.8L993.1,562.2L994.7,560.3L996.3,560.9L997.9,556.4L999.5,558.3L1001.1,570.8"/>
<path d="M17.0,704.6L18.6,704.3L20.2,702.9L21.8,703.0L23.4,702.4L25.0,703.4L26.6,705.3L28.2,705.0L29.8,704.1L31.4,703.0L33.0,704.4L34.6,707.1L36.2,707.4L37.8,707.3L39.4,707.0L41.0,706.6L42.6,706.8L44.2,707.0L45.8,708.5L47.4,711.2L49.0,713.6L50.5,713.7L52.1,711.8L53.7,710.2L55.3,710.6L56.9,712.4L58.5,713.7L60.1,714.4L61.7,715.8L63.3,716.3L64.9,715.2L66.5,715.1L68.1,715.2L69.7,714.7L71.3,715.7L72.9,716.3L74.5,715.0L76.1,714.7L77.7,716.3L79.3,718.3L80.9,720.2L82.5,720.2L84.1,718.8L85.7,718.4L87.3,718.1L88.9,716.9L90.5,717.1L92.1,717.4L93.7,718.3L95.3,719.4L96.9,718.7L98.5,719.2L100.1,720.3L101.7,719.2L103.3,718.0L104.9,718.0L106.5,719.3L108.1,721.1L109.7,721.4L111.3,721.0L112.9,720.6L114.4,719.9L116.0,719.2L117.6,719.9L119.2,720.8L120.8,719.7L122.4,718.9L124.0,720.7L125.6,722.7L127.2,722.7L128.8,722.6L130.4,723.1L132.0,723.0L133.6,722.5L135.2,721.2L136.8,720.8L138.4,722.1L140.0,722.9L141.6,722.6L143.2,722.8L144.8,722.5L146.4,721.8L148.0,723.0L149.6,723.5L151.2,721.4L152.8,719.7L154.4,719.8L156.0,720.1L157.6,720.5L159.2,721.0L160.8,719.9L162.4,720.0L164.0,722.0L165.6,723.2L167.2,724.3L168.8,724.2L170.4,723.4L172.0,723.7L173.6,723.1L175.2,722.5L176.8,722.3L178.3,721.3L179.9,720.9L181.5,721.7L183.1,721.5L184.7,721.6L186.3,723.2L187.9,725.1L189.5,725.5L191.1,723.5L192.7,721.9L194.3,721.5L195.9,720.5L197.5,720.6L199.1,721.9L200.7,723.3L202.3,724.0L203.9,723.3L205.5,722.8L207.1,723.2L208.7,723.7L210.3,723.4L211.9,723.6L213.5,724.6L215.1,724.2L216.7,723.0L218.3,722.2L219.9,722.3L221.5,723.3L223.1,724.3L224.7,723.9L226.3,722.3L227.9,722.0L229.5,723.0L231.1,724.1L232.7,723.9L234.3,722.5L235.9,722.3L237.5,721.7L239.1,721.8L240.7,723.8L242.2,724.1L243.8,722.6L245.4,722.5L247.0,723.5L248.6,723.6L250.2,723.5L251.8,723.3L253.4,722.4L255.0,721.7L256.6,721.1L258.2,720.7L259.8,721.2L261.4,722.3L263.0,723.0L264.6,724.2L266.2,725.1L267.8,723.9L269.4,722.1L271.0,722.4L272.6,722.9L274.2,721.1L275.8,720.5L277.4,721.7L279.0,722.2L280.6,722.5L282.2,721.8L283.8,720.2L285.4,721.0L287.0,722.1L288.6,722.1L290.2,722.6L291.8,722.3L293.4,721.9L295.0,722.6L296.6,723.0L298.2,721.9L299.8,721.0L301.4,721.8L303.0,721.9L304.6,721.0L306.1,721.1L307.7,720.0L309.3,718.1L310.9,717.6L312.5,716.8L314.1,715.8L315.7,716.4L317.3,717.4L318.9,717.0L320.5,714.4L322.1,712.6L323.7,711.3L325.3,708.5L326.9,707.0L328.5,707.7L330.1,708.4L331.7,706.7L333.3,706.1L334.9,707.0L336.5,704.8L338.1,703.6L339.7,703.4L341.3,698.0L342.9,692.7L344.5,693.9L346.1,696.8L347.7,694.5L349.3,691.6L350.9,691.5L352.5,689.5L354.1,686.5L355.7,682.2L357.3,679.8L358.9,680.7L360.5,676.0L362.1,672.6L363.7,675.7L365.3,676.0L366.9,670.9L368.5,672.5L370.0,678.3L371.6,675.4L373.2,670.3L374.8,667.6L376.4,665.6L378.0,661.0L379.6,653.6L381.2,653.4L382.8,656.2L384.4,652.0L386.0,650.2L387.6,658.9L389.2,666.1L390.8,661.9L392.4,660.0L394.0,665.7L395.6,665.3L397.2,660.0L398.8,658.3L400.4,659.6L402.0,657.1L403.6,651.6L405.2,643.5L406.8,635.8L408.4,634.7L410.0,640.4L411.6,639.5L413.2,632.0L414.8,632.3L416.4,641.6L418.0,644.8L419.6,637.2L421.2,629.4L422.8,626.2L424.4,629.6L426.0,634.3L427.6,631.1L429.2,627.8L430.8,620.4L432.4,609.8L433.9,611.7L435.5,616.7L437.1,616.0L438.7,612.3L440.3,612.6L441.9,619.5L443.5,624.7L445.1,629.5L446.7,633.0L448.3,630.8L449.9,627.9L451.5,628.0L453.1,631.1L454.7,630.7L456.3,620.8L457.9,609.0L459.5,603.8L461.1,609.0L462.7,616.4L464.3,615.3L465.9,606.3L467.5,596.7L469.1,595.5L470.7,598.8L472.3,591.7L473.9,580.8L475.5,580.4L477.1,583.0L478.7,585.6L480.3,590.1L481.9,588.9L483.5,578.1L485.1,565.9L486.7,565.1L488.3,570.9L489.9,571.9L491.5,570.7L493.1,574.5L494.7,582.5L496.3,583.4L497.8,586.3L499.4,596.2L501.0,598.5L502.6,597.2L504.2,599.1L505.8,602.0L507.4,606.1L509.0,610.3L510.6,618.0L512.2,625.9L513.8,634.1L515.4,647.6L517.0,656.1L518.6,659.2L520.2,664.7L521.8,668.8L523.4,664.4L525.0,657.4L526.6,659.9L528.2,658.6L529.8,649.2L531.4,647.7L533.0,652.1L534.6,653.1L536.2,650.6L537.8,648.5L539.4,646.4L541.0,645.4L542.6,645.1L544.2,645.4L545.8,647.9L547.4,649.2L549.0,648.2L550.6,645.0L552.2,643.0L553.8,649.4L555.4,654.8L557.0,651.9L558.6,654.1L560.2,658.8L561.7,659.6L563.3,657.7L564.9,654.3L566.5,652.0L568.1,646.9L569.7,638.0L571.3,636.6L572.9,645.4L574.5,653.0L576.1,657.2L577.7,655.4L579.3,648.7L580.9,647.4L582.5,649.7L584.1,650.8L585.7,650.6L587.3,648.4L588.9,651.4L590.5,657.1L592.1,655.2L593.7,656.7L595.3,662.6L596.9,662.4L598.5,662.9L600.1,662.6L601.7,658.5L603.3,655.7L604.9,652.8L606.5,651.9L608.1,649.0L609.7,644.5L611.3,646.8L612.9,649.7L614.5,646.6L616.1,642.2L617.7,643.7L619.3,646.4L620.9,644.8L622.5,646.8L624.1,647.4L625.6,642.5L627.2,641.1L628.8,643.1L630.4,648.9L632.0,653.1L633.6,647.9L635.2,644.5L636.8,643.5L638.4,641.0L640.0,640.8L641.6,639.1L643.2,642.0L644.8,651.0L646.4,654.6L648.0,652.9L649.6,650.0L651.2,649.7L652.8,654.7L654.4,653.4L656.0,646.7L657.6,648.9L659.2,649.8L660.8,647.6L662.4,656.4L664.0,664.3L665.6,661.6L667.2,659.0L668.8,661.9L670.4,667.3L672.0,666.1L673.6,661.4L675.2,661.2L676.8,664.0L678.4,668.8L680.0,674.3L681.6,679.6L683.2,681.6L684.8,678.0L686.4,676.6L688.0,682.2L689.5,689.7L691.1,693.1L692.7,689.9L694.3,686.5L695.9,690.0L697.5,694.7L699.1,694.3L700.7,693.7L702.3,696.4L703.9,698.6L705.5,699.8L707.1,698.7L708.7,697.2L710.3,699.6L711.9,700.3L713.5,699.9L715.1,702.4L716.7,704.6L718.3,705.1L719.9,705.7L721.5,706.9L723.1,708.1L724.7,708.6L726.3,707.7L727.9,707.5L729.5,709.1L731.1,710.2L732.7,711.7L734.3,713.8L735.9,714.2L737.5,714.2L739.1,714.8L740.7,714.9L742.3,714.3L743.9,714.7L745.5,715.9L747.1,715.6L748.7,715.1L750.3,716.7L751.9,718.3L753.4,718.6L755.0,718.8L756.6,718.9L758.2,718.7L759.8,719.0L761.4,718.8L763.0,718.3L764.6,719.2L766.2,719.7L767.8,719.6L769.4,720.8L771.0,722.0L772.6,720.9L774.2,720.1L775.8,721.1L777.4,721.1L779.0,719.6L780.6,718.8L782.2,718.1L783.8,717.0L785.4,716.3L787.0,716.5L788.6,716.2L790.2,716.3L791.8,717.0L793.4,716.2L795.0,716.7L796.6,719.2L798.2,719.2L799.8,716.7L801.4,715.4L803.0,717.1L804.6,719.1L806.2,718.8L807.8,717.0L809.4,716.4L811.0,716.8L812.6,716.5L814.2,715.8L815.8,715.8L817.3,717.1L818.9,716.5L820.5,715.2L822.1,716.3L823.7,717.1L825.3,715.4L826.9,713.7L828.5,713.6L830.1,714.4L831.7,715.8L833.3,715.7L834.9,714.6L836.5,715.0L838.1,716.9L839.7,717.6L841.3,715.4L842.9,713.8L844.5,715.0L846.1,717.2L847.7,717.6L849.3,716.7L850.9,715.5L852.5,714.5L854.1,715.0L855.7,715.5L857.3,716.0L858.9,715.2L860.5,712.6L862.1,712.1L863.7,712.6L865.3,713.1L866.9,712.5L868.5,710.5L870.1,711.3L871.7,712.9L873.3,711.2L874.9,708.7L876.5,707.2L878.1,705.9L879.7,705.2L881.2,704.7L882.8,705.2L884.4,706.3L886.0,704.3L887.6,701.9L889.2,701.7L890.8,702.3L892.4,702.7L894.0,703.4L895.6,703.6L897.2,700.1L898.8,694.6L900.4,693.3L902.0,696.0L903.6,697.2L905.2,695.9L906.8,693.9L908.4,691.6L910.0,688.1L911.6,688.2L913.2,693.5L914.8,693.7L916.4,689.2L918.0,685.2L919.6,679.8L921.2,677.5L922.8,679.7L924.4,678.5L926.0,676.5L927.6,675.1L929.2,671.4L930.8,668.6L932.4,670.5L934.0,671.5L935.6,666.3L937.2,665.2L938.8,667.1L940.4,662.7L942.0,659.3L943.6,658.3L945.1,652.5L946.7,650.1L948.3,654.3L949.9,655.5L951.5,654.1L953.1,646.8L954.7,642.7L956.3,643.9L957.9,636.9L959.5,632.9L961.1,634.7L962.7,633.8L964.3,631.3L965.9,629.4L967.5,626.7L969.1,623.0L970.7,626.5L972.3,631.7L973.9,627.2L975.5,622.0L977.1,625.7L978.7,637.3L980.3,647.1L981.9,647.3L983.5,644.4L985.1,646.6L986.7,646.3L988.3,636.3L989.9,631.0L991.5,635.0L993.1,636.5L994.7,634.2L996.3,628.5L997.9,629.7L999.5,635.4L1001.1,633.5"/>
  </g>
  <line x1="17" y1="727.5" x2="1002" y2="727.5" stroke="#e0e0e0" stroke-width="1"/>
  <g stroke="#888" stroke-width="1">
    <line x1="137" y1="728" x2="137" y2="733"/>
    <line x1="284.5" y1="728" x2="284.5" y2="733"/>
    <line x1="431.5" y1="728" x2="431.5" y2="733"/>
    <line x1="575.5" y1="728" x2="575.5" y2="733"/>
    <line x1="721.5" y1="728" x2="721.5" y2="733"/>
    <line x1="868.5" y1="728" x2="868.5" y2="733"/>
  </g>
  <line x1="1002" y1="130" x2="1002" y2="728" stroke="#dcdcdc" stroke-width="1.5"/>
  <path d="M17.0,644.2L19.9,636.1L22.8,643.2L25.7,650.5L28.6,659.1L31.5,656.5L34.4,659.1L37.3,660.1L40.2,668.2L43.1,670.8L46.0,679.6L48.9,678.8L51.8,683.3L54.7,680.5L57.6,685.7L60.5,690.3L63.4,698.2L66.3,697.2L69.2,702.6L72.1,700.7L75.0,705.7L77.9,704.8L80.8,709.7L83.7,707.5L86.6,709.3L89.5,705.5L92.4,708.9L95.3,706.5L98.2,710.7L101.1,706.9L104.0,711.2L106.9,710.9L109.8,713.1L112.7,709.8L115.6,712.9L118.5,711.1L121.4,715.2L124.3,713.6L127.2,717.9L130.1,716.0L133.0,720.1L135.9,717.9L138.8,720.6L141.7,716.7L144.6,719.8L147.5,716.9L150.4,720.4L153.3,717.9L156.2,719.2L159.1,718.0L162.0,721.3L164.9,717.7L167.8,720.2L170.7,717.2L173.6,720.4L176.5,717.9L179.4,720.8L182.3,716.9L185.2,719.5L188.1,716.9L191.0,721.0L193.9,716.4L196.8,718.6L199.7,715.1L202.6,718.6L205.5,716.3L208.4,719.8L211.3,717.5L214.2,721.2L217.1,717.8L220.0,720.6L222.9,718.0L225.8,722.3L228.7,719.9L231.6,721.0L234.5,716.5L237.4,721.5L240.3,718.5L243.2,720.4L246.1,717.0L249.0,720.4L251.9,718.0L254.8,721.9L257.7,719.5L260.6,722.2L263.5,717.6L266.4,719.6L269.3,716.2L272.2,718.8L275.1,715.6L278.0,717.0L280.9,712.6L283.8,714.5L286.7,710.1L289.6,711.8L292.5,708.8L295.4,712.0L298.3,708.2L301.2,709.2L304.1,705.8L307.0,708.7L309.9,703.7L312.8,704.9L315.7,699.2L318.6,697.7L321.5,689.2L324.4,686.5L327.3,676.5L330.2,672.8L333.1,663.9L336.0,664.8L338.9,654.5L341.8,650.8L344.7,641.2L347.6,639.5L350.5,631.7L353.4,630.3L356.3,624.8L359.2,625.3L362.1,622.0L365.0,630.0L367.9,626.9L370.8,628.3L373.7,623.0L376.6,625.2L379.5,621.8L382.4,624.2L385.3,623.6L388.2,629.1L391.1,629.0L394.0,635.2L396.9,631.5L399.8,632.1L402.7,626.7L405.6,627.4L408.5,618.8L411.4,616.3L414.3,607.1L417.2,601.2L420.1,587.1L423.0,586.8L425.9,586.4L428.8,588.2L431.7,577.8L434.6,576.3L437.5,574.9L440.4,579.1L443.3,572.3L446.2,573.5L449.1,568.0L452.0,570.9L454.9,563.4L457.8,569.7L460.7,570.9L463.6,573.1L466.5,567.7L469.4,574.1L472.3,572.8L475.2,574.2L478.1,573.6L481.0,581.1L483.9,579.5L486.8,587.7L489.7,590.7L492.6,591.1L495.5,593.2L498.4,599.2L501.3,596.2L504.2,604.9L507.1,605.3L510.0,608.8L512.9,608.9L515.8,614.1L518.7,614.5L521.6,616.1L524.5,612.2L527.4,614.0L530.3,609.1L533.2,611.7L536.1,613.9L539.0,612.7L541.9,604.8L544.8,603.9L547.7,600.2L550.6,605.7L553.5,599.6L556.4,598.2L559.3,591.6L562.2,596.7L565.1,598.2L568.0,596.0L570.9,583.7L573.8,587.5L576.7,576.5L579.6,573.8L582.5,567.0L585.4,566.1L588.3,559.1L591.2,558.0L594.1,556.1L597.0,563.0L599.9,555.4L602.8,550.0L605.7,544.6L608.6,552.2L611.5,549.1L614.4,554.6L617.3,552.3L620.2,561.9L623.1,556.0L626.0,556.0L628.9,560.2L631.8,568.8L634.7,570.1L637.6,579.7L640.5,583.7L643.4,591.6L646.3,592.4L649.2,600.0L652.1,605.6L655.0,617.7L657.9,616.6L660.8,624.2L663.7,628.6L666.6,637.7L669.5,640.4L672.4,647.9L675.3,651.1L678.2,661.6L681.1,664.1L684.0,673.1L686.9,676.7L689.8,688.6L692.7,690.6L695.6,695.9L698.5,695.4L701.4,700.5L704.3,699.3L707.2,704.1L710.1,702.5L713.0,707.5L715.9,706.0L718.8,710.4L721.7,710.8L724.6,718.4L727.5,718.0L730.4,720.0L733.3,716.2L736.2,718.6L739.1,714.2L742.0,716.0L744.9,711.8L747.8,713.6L750.7,710.2L753.6,712.7L756.5,709.2L759.4,711.6L762.3,710.1L765.2,714.8L768.1,713.2L771.0,716.3L773.9,713.3L776.8,716.4L779.7,713.6L782.6,716.2L785.5,713.2L788.4,715.9L791.3,712.5L794.2,713.3L797.1,707.2L800.0,707.6L802.9,701.8L805.8,701.8L808.7,694.1L811.6,692.5L814.5,684.9L817.4,684.1L820.3,677.2L823.2,673.7L826.1,663.3L829.0,669.2L831.9,662.4L834.8,661.4L837.7,655.0L840.6,655.4L843.5,649.4L846.4,649.5L849.3,646.9L852.2,650.7L855.1,648.9L858.0,654.4L860.9,654.5L863.8,662.4L866.7,664.0L869.6,668.9L872.5,666.0L875.4,670.2L878.3,667.3L881.2,670.5L884.1,666.9L887.0,670.8L889.9,672.0L892.8,677.4L895.7,675.3L898.6,678.4L901.5,674.3L904.4,675.5L907.3,668.0L910.2,666.2L913.1,658.9L916.0,658.4L918.9,651.5L921.8,647.9L924.7,637.9L927.6,640.0L930.5,641.2L933.4,648.4L936.3,640.7L939.2,639.2L942.1,632.7L945.0,633.3L947.9,627.0L950.8,626.2L953.7,618.9L956.6,617.2L959.5,605.4L962.4,599.3L965.3,589.7L968.2,588.4L971.1,581.1L974.0,581.2L976.9,576.5L979.8,583.5L982.7,577.1L985.6,578.8L988.5,579.9L991.4,583.5L994.3,581.1L997.2,586.7L1000.1,586.8L1001.9,589.6" fill="none" stroke="#5a5fcd" stroke-width="1" stroke-linejoin="round"/>
  <circle cx="1001.9" cy="589.9" r="3" fill="none" stroke="#b4b4b4" stroke-width="1.4"/>
  <!-- arrow up -->
  <path d="M10.5,203.5V215M7.8,206.5L10.5,203.3L13.2,206.5" stroke="#666" stroke-width="0.9" fill="none"/>
  <!-- y % glyphs -->
  <g fill="none" stroke="#6a6a6a" stroke-width="1">
    <g transform="translate(35.7,233.8)"><circle cx="0" cy="-7.9" r="1.2"/><line x1="-2.8" y1="-4.6" x2="2.8" y2="-4.6" stroke-width="1.3"/><circle cx="0" cy="-1.5" r="1.2"/></g>
    <g transform="translate(35.7,356.3)"><circle cx="0" cy="-7.9" r="1.2"/><line x1="-2.8" y1="-4.6" x2="2.8" y2="-4.6" stroke-width="1.3"/><circle cx="0" cy="-1.5" r="1.2"/></g>
    <g transform="translate(35.7,478.8)"><circle cx="0" cy="-7.9" r="1.2"/><line x1="-2.8" y1="-4.6" x2="2.8" y2="-4.6" stroke-width="1.3"/><circle cx="0" cy="-1.5" r="1.2"/></g>
    <g transform="translate(35.7,601.5)"><circle cx="0" cy="-7.9" r="1.2"/><line x1="-2.8" y1="-4.6" x2="2.8" y2="-4.6" stroke-width="1.3"/><circle cx="0" cy="-1.5" r="1.2"/></g>
    <g transform="translate(28,723.8)"><circle cx="0" cy="-7.9" r="1.2"/><line x1="-2.8" y1="-4.6" x2="2.8" y2="-4.6" stroke-width="1.3"/><circle cx="0" cy="-1.5" r="1.2"/></g>
  </g>
</svg>

<div class="abs" style="left:910px;top:177px;width:95px;height:24px;border:1px solid #c8c8c8;border-radius:5px;background:#fff;z-index:3;"></div>
<div class="abs" style="left:938px;top:129px;width:128px;height:88px;border-radius:5px;background:rgba(255,255,255,0.96);box-shadow:0 2px 8px rgba(0,0,0,0.16);z-index:4;"></div>
<svg class="full" width="1113" height="809" style="z-index:5;pointer-events:none">
  <g fill="none" stroke="#5a5fcd" stroke-width="1.8" transform="translate(994.1,178.6)"><circle cx="0" cy="-9.6" r="1.9"/><line x1="-3.7" y1="-5.8" x2="3.7" y2="-5.8"/><circle cx="0" cy="-2.2" r="1.9"/></g>
</svg>
<div class='tx' style='left:69.00px;top:17.00px;font-size:11.6px;line-height:11.6px;font-weight:bold;color:#3d3d48;letter-spacing:1.3px;transform:scaleX(0.8580);z-index:6'>ZURÜCK ZUR STARTSEITE</div>
<div class='tx' style='left:764.50px;top:17.00px;font-size:11.6px;line-height:11.6px;font-weight:normal;color:#252525;letter-spacing:1.4px;transform:scaleX(0.8298);z-index:6'>ANMELDEN / REGISTRIEREN</div>
<div class='tx' style='left:177.00px;top:72.00px;font-size:24px;line-height:24px;font-weight:bold;color:#2a2a30;letter-spacing:0px;transform:scaleX(0.9444);z-index:1'>Wo die Intensivbetten knapp werden</div>
<div class='tx' style='left:177.00px;top:103.80px;font-size:18px;line-height:18px;font-weight:normal;color:#2a2a30;letter-spacing:0px;transform:scaleX(0.9420);z-index:1'>Anteil aller verfügbaren Intensivbetten, der mit Covid-19-Patienten belegt ist</div>
<div class='tx' style='left:23.90px;top:151.70px;font-size:18px;line-height:18px;font-weight:normal;color:#2f3340;letter-spacing:0px;transform:scaleX(0.9661);z-index:1'>Niedersachsen</div>
<div class='tx' style='left:18.00px;top:200.90px;font-size:13.8px;line-height:13.8px;font-weight:normal;color:#555;letter-spacing:0px;transform:scaleX(1.0263);z-index:2'>Anteil Covid-Patienten an allen Intensivbetten</div>
<div class='tx' style='left:17.50px;top:222.80px;font-size:13.9px;line-height:13.9px;font-weight:normal;color:#666;letter-spacing:0px;transform:scaleX(0.8733);z-index:2'>40</div>
<div class='tx' style='left:16.50px;top:345.30px;font-size:13.9px;line-height:13.9px;font-weight:normal;color:#666;letter-spacing:0px;transform:scaleX(0.9357);z-index:2'>30</div>
<div class='tx' style='left:16.50px;top:467.80px;font-size:13.9px;line-height:13.9px;font-weight:normal;color:#666;letter-spacing:0px;transform:scaleX(0.9357);z-index:2'>20</div>
<div class='tx' style='left:16.90px;top:590.90px;font-size:13.9px;line-height:13.9px;font-weight:normal;color:#666;letter-spacing:0px;transform:scaleX(0.9357);z-index:2'>10</div>
<div class='tx' style='left:16.00px;top:712.80px;font-size:13.9px;line-height:13.9px;font-weight:normal;color:#666;letter-spacing:0px;transform:scaleX(1.1500);z-index:2'>0</div>
<div class='tx' style='left:128.00px;top:733.60px;font-size:13.4px;line-height:13.4px;font-weight:normal;color:#666;letter-spacing:0px;transform:scaleX(1.0211);z-index:1'>Juli</div>
<div class='tx' style='left:261.40px;top:733.60px;font-size:13.4px;line-height:13.4px;font-weight:normal;color:#666;letter-spacing:0px;transform:scaleX(0.9638);z-index:1'>Oktober</div>
<div class='tx' style='left:412.20px;top:733.60px;font-size:13.4px;line-height:13.4px;font-weight:normal;color:#666;letter-spacing:0px;transform:scaleX(0.9951);z-index:1'>Januar</div>
<div class='tx' style='left:562.60px;top:733.60px;font-size:13.4px;line-height:13.4px;font-weight:normal;color:#666;letter-spacing:0px;transform:scaleX(1.0538);z-index:1'>April</div>
<div class='tx' style='left:712.30px;top:733.60px;font-size:13.4px;line-height:13.4px;font-weight:normal;color:#666;letter-spacing:0px;transform:scaleX(1.0211);z-index:1'>Juli</div>
<div class='tx' style='left:845.00px;top:733.60px;font-size:13.4px;line-height:13.4px;font-weight:normal;color:#666;letter-spacing:0px;transform:scaleX(0.9638);z-index:1'>Oktober</div>
<div class='tx' style='left:1006.70px;top:578.10px;font-size:14.8px;line-height:14.8px;font-weight:bold;color:#5558c8;letter-spacing:0px;transform:scaleX(0.9308);z-index:2'>Niedersachsen</div>
<div class='tx' style='left:6.20px;top:778.70px;font-size:14px;line-height:14px;font-weight:normal;color:#555;letter-spacing:0px;transform:scaleX(1.0277);z-index:1'>Quelle: DIVI Intensivregister</div>
<div class='tx' style='left:915.70px;top:184.90px;font-size:11.5px;line-height:11.5px;font-weight:normal;color:#333;letter-spacing:2.0px;transform:scaleX(0.7615);z-index:3'>HERANZOOMEN</div>
<div class='tx' style='left:953.10px;top:140.70px;font-size:17.6px;line-height:17.6px;font-weight:normal;color:#222;letter-spacing:0px;transform:scaleX(0.8844);z-index:5'>23. Dezember</div>
<div class='tx' style='left:957.80px;top:164.80px;font-size:17.6px;line-height:17.6px;font-weight:normal;color:#5a5fcd;letter-spacing:0px;transform:scaleX(0.9344);z-index:5'><b>11,2</b></div>
<div class='tx' style='left:1001.80px;top:164.60px;font-size:17.6px;line-height:17.6px;font-weight:normal;color:#5a5fcd;letter-spacing:0px;transform:scaleX(0.8735);z-index:5'>Covid-</div>
<div class='tx' style='left:968.70px;top:188.90px;font-size:17.6px;line-height:17.6px;font-weight:normal;color:#5a5fcd;letter-spacing:0px;transform:scaleX(0.9056);z-index:5'>Patienten</div>
</body></html>
